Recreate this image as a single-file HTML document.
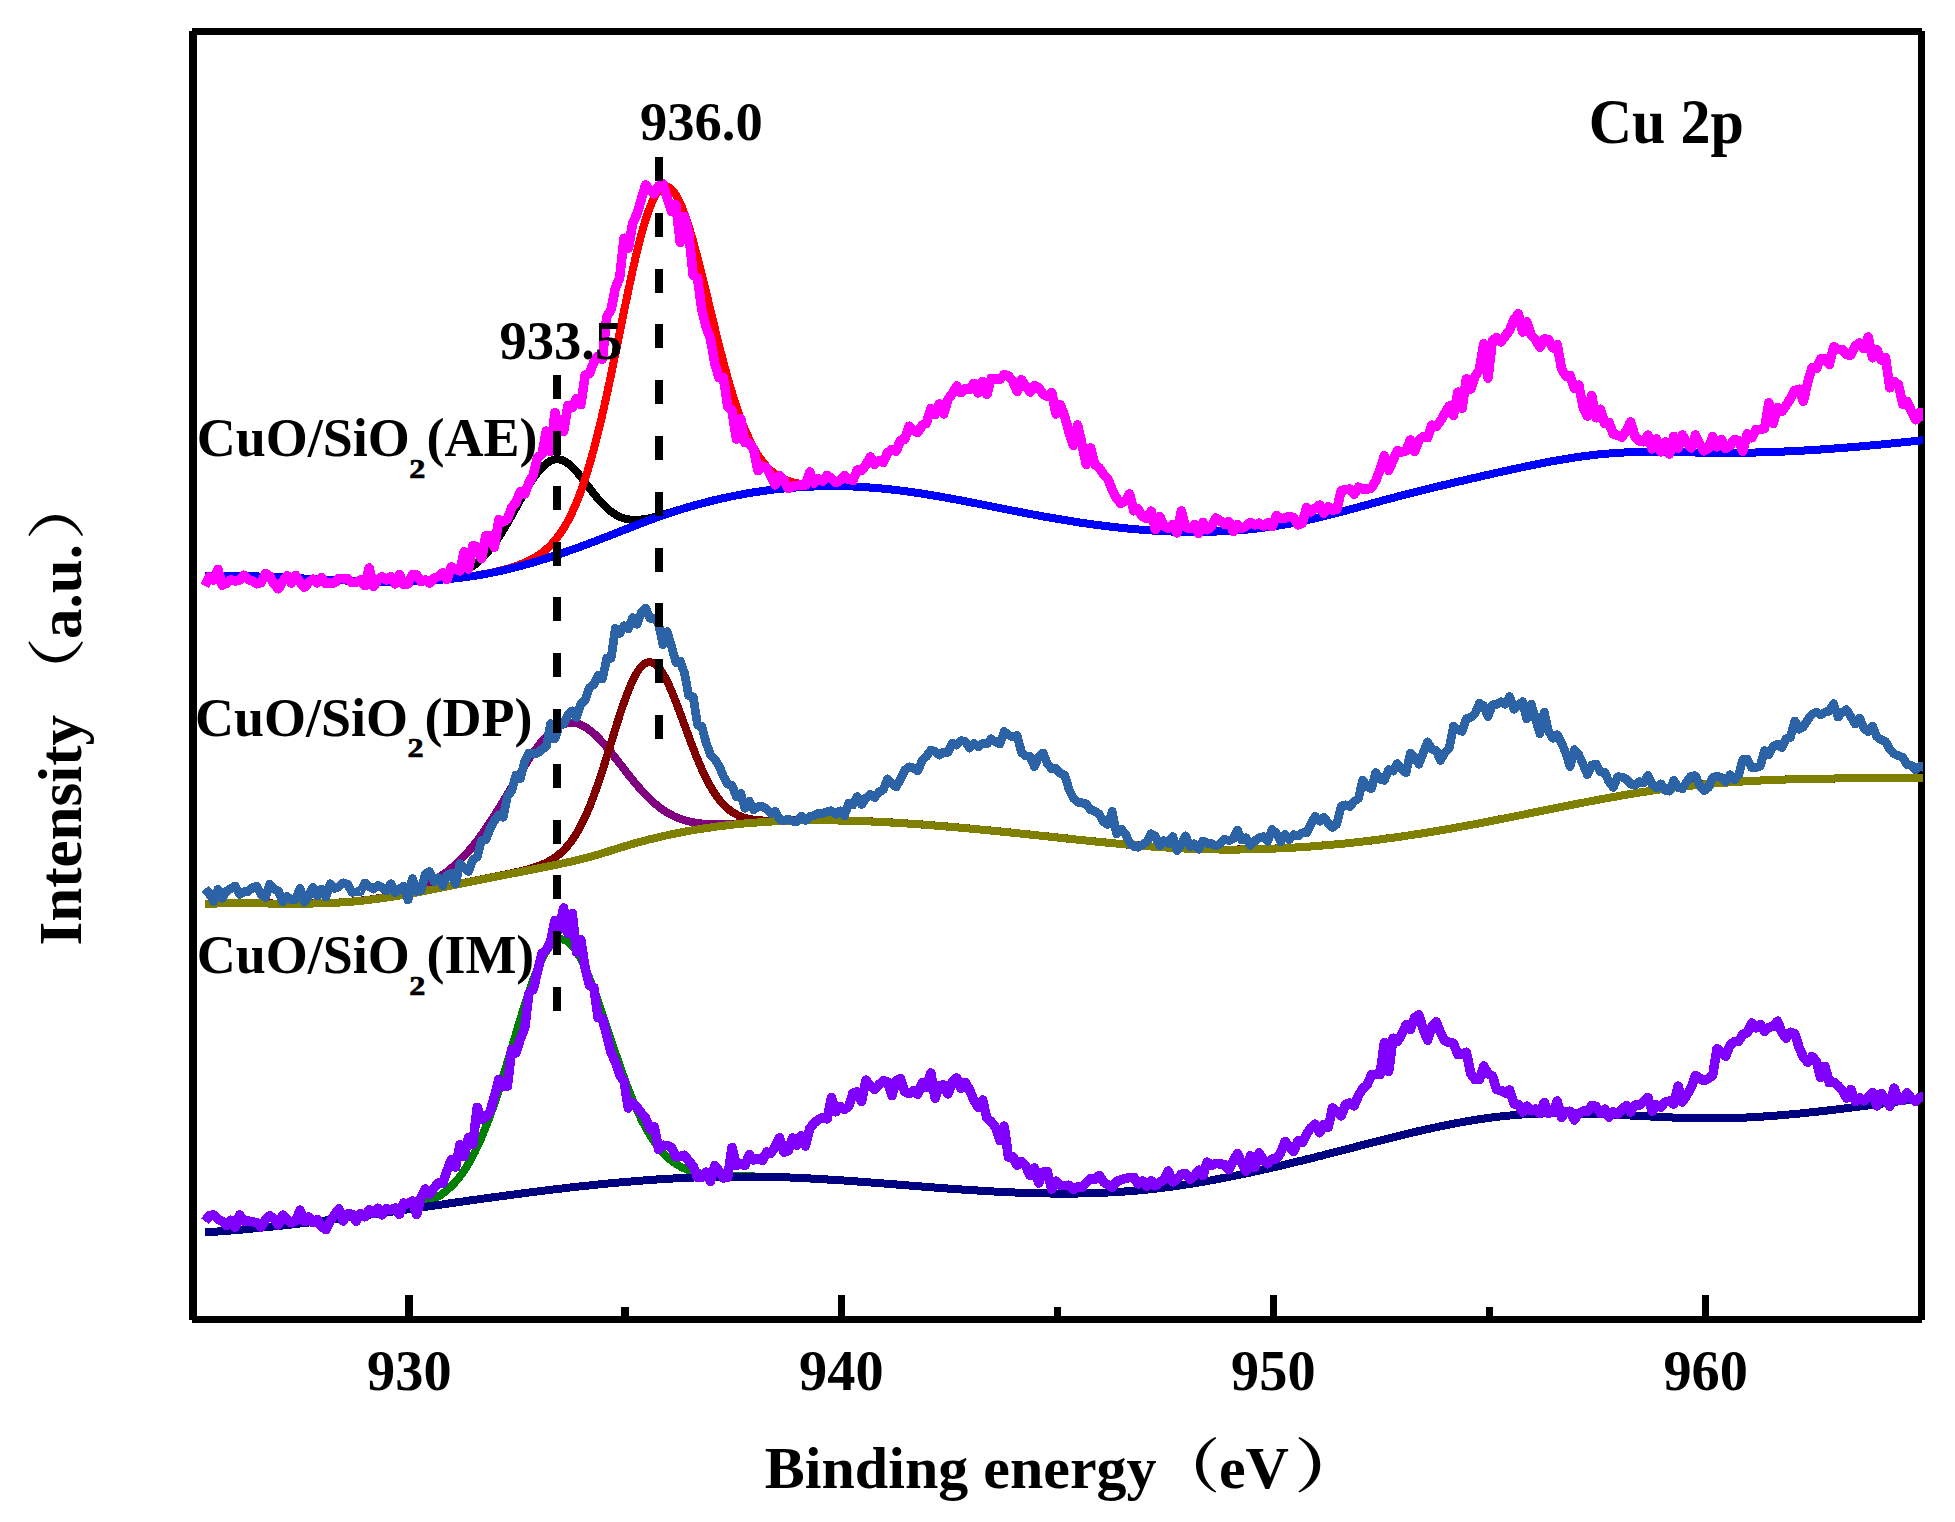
<!DOCTYPE html>
<html lang="en"><head><meta charset="utf-8"><title>Cu 2p XPS</title>
<style>
html,body{margin:0;padding:0;background:#fff}
body{width:1955px;height:1522px;overflow:hidden}
svg{display:block}
text{font-family:'Liberation Serif','Noto Serif CJK SC',serif;font-weight:700;fill:#000}
.c path{fill:none;stroke-linejoin:round;stroke-linecap:butt}
</style></head><body>
<svg width="1955" height="1522" viewBox="0 0 1955 1522">
<rect width="1955" height="1522" fill="#fff"/>
<g fill="#000" shape-rendering="crispEdges">
<rect x="189" y="31" width="8" height="1289"/>
<rect x="192" y="28" width="1730" height="7"/>
<rect x="1918" y="31" width="7" height="1289"/>
<rect x="192" y="1316" width="1730" height="7"/>
<rect x="405.2" y="1295" width="7.5" height="22"/>
<rect x="837.5" y="1295" width="7.5" height="22"/>
<rect x="1269.5" y="1295" width="7.5" height="22"/>
<rect x="1701.8" y="1295" width="7.5" height="22"/>
<rect x="621.2" y="1307" width="7.5" height="10"/>
<rect x="1053.5" y="1307" width="7.5" height="10"/>
<rect x="1485.7" y="1307" width="7.5" height="10"/>
</g>
<defs><clipPath id="cp"><rect x="190" y="30" width="1733" height="1290"/></clipPath></defs>
<g class="c" clip-path="url(#cp)" shape-rendering="crispEdges">
<path d="M205.0,576.1 L207.5,576.1 L210.0,576.0 L212.5,576.0 L215.0,576.0 L217.5,575.9 L220.0,575.9 L222.5,575.9 L225.0,575.9 L227.5,575.9 L230.0,575.9 L232.5,575.9 L235.0,576.0 L237.5,576.0 L240.0,576.0 L242.5,576.1 L245.0,576.1 L247.5,576.2 L250.0,576.3 L252.5,576.3 L255.0,576.4 L257.5,576.5 L260.0,576.6 L262.5,576.7 L265.0,576.7 L267.5,576.8 L270.0,576.9 L272.5,577.0 L275.0,577.2 L277.5,577.3 L280.0,577.4 L282.5,577.5 L285.0,577.6 L287.5,577.7 L290.0,577.8 L292.5,578.0 L295.0,578.1 L297.5,578.2 L300.0,578.3 L302.5,578.5 L305.0,578.6 L307.5,578.7 L310.0,578.8 L312.5,579.0 L315.0,579.1 L317.5,579.2 L320.0,579.3 L322.5,579.5 L325.0,579.6 L327.5,579.7 L330.0,579.8 L332.5,580.0 L335.0,580.1 L337.5,580.2 L340.0,580.3 L342.5,580.4 L345.0,580.5 L347.5,580.6 L350.0,580.7 L352.5,580.8 L355.0,580.9 L357.5,581.0 L360.0,581.0 L362.5,581.1 L365.0,581.2 L367.5,581.2 L370.0,581.3 L372.5,581.3 L375.0,581.4 L377.5,581.4 L380.0,581.5 L382.5,581.5 L385.0,581.5 L387.5,581.5 L390.0,581.5 L392.5,581.5 L395.0,581.5 L397.5,581.5 L400.0,581.5 L402.5,581.4 L405.0,581.4 L407.5,581.3 L410.0,581.2 L412.5,581.1 L415.0,581.0 L417.5,580.9 L420.0,580.8 L422.5,580.6 L425.0,580.4 L427.5,580.2 L430.0,580.0 L432.5,579.7 L435.0,579.4 L437.5,579.0 L440.0,578.7 L442.5,578.2 L445.0,577.7 L447.5,577.2 L450.0,576.5 L452.5,575.8 L455.0,575.0 L457.5,574.2 L460.0,573.2 L462.5,572.0 L465.0,570.8 L467.5,569.4 L470.0,567.9 L472.5,566.2 L475.0,564.4 L477.5,562.3 L480.0,560.1 L482.5,557.7 L485.0,555.1 L487.5,552.3 L490.0,549.2 L492.5,546.0 L495.0,542.6 L497.5,539.0 L500.0,535.2 L502.5,531.2 L505.0,527.1 L507.5,522.8 L510.0,518.5 L512.5,514.0 L515.0,509.5 L517.5,505.0 L520.0,500.5 L522.5,496.1 L525.0,491.8 L527.5,487.5 L530.0,483.5 L532.5,479.6 L535.0,476.0 L537.5,472.7 L540.0,469.7 L542.5,467.0 L545.0,464.7 L547.5,462.8 L550.0,461.2 L552.5,460.1 L555.0,459.4 L557.5,459.2 L560.0,459.5 L562.5,460.2 L565.0,461.4 L567.5,463.0 L570.0,465.0 L572.5,467.3 L575.0,469.9 L577.5,472.7 L580.0,475.8 L582.5,478.9 L585.0,482.2 L587.5,485.5 L590.0,488.8 L592.5,492.0 L595.0,495.2 L597.5,498.2 L600.0,501.1 L602.5,503.8 L605.0,506.3 L607.5,508.7 L610.0,510.8 L612.5,512.6 L615.0,514.3 L617.5,515.7 L620.0,516.9 L622.5,517.9 L625.0,518.6 L627.5,519.2 L630.0,519.6 L632.5,519.9 L635.0,519.9 L637.5,519.9 L640.0,519.7 L642.5,519.4 L645.0,519.1 L647.5,518.6 L650.0,518.1 L652.5,517.5 L655.0,516.9 L657.5,516.2 L660.0,515.5 L662.5,514.8 L665.0,514.1 L667.5,513.3 L670.0,512.6 L672.5,511.8 L675.0,511.1 L677.5,510.3 L680.0,509.6 L682.5,508.8 L685.0,508.1 L687.5,507.3 L690.0,506.6 L692.5,505.9 L695.0,505.2 L697.5,504.5 L700.0,503.8 L702.5,503.2 L705.0,502.5 L707.5,501.9 L710.0,501.3 L712.5,500.6 L715.0,500.0 L717.5,499.4 L720.0,498.9 L722.5,498.3 L725.0,497.8 L727.5,497.2 L730.0,496.7 L732.5,496.2 L735.0,495.7 L737.5,495.2 L740.0,494.7 L742.5,494.3 L745.0,493.8 L747.5,493.4 L750.0,493.0 L752.5,492.6 L755.0,492.2 L757.5,491.8 L760.0,491.4 L762.5,491.0 L765.0,490.7 L767.5,490.4 L770.0,490.0 L772.5,489.7 L775.0,489.4 L777.5,489.2 L780.0,488.9 L782.5,488.6 L785.0,488.4 L787.5,488.2 L790.0,487.9 L792.5,487.7 L795.0,487.5 L797.5,487.4 L800.0,487.2 L802.5,487.0 L805.0,486.9 L807.5,486.8 L810.0,486.6 L812.5,486.5 L815.0,486.4 L817.5,486.4 L820.0,486.3 L822.5,486.2 L825.0,486.2 L827.5,486.2 L830.0,486.1 L832.5,486.1 L835.0,486.1 L837.5,486.2 L840.0,486.2 L842.5,486.2 L845.0,486.3 L847.5,486.4 L850.0,486.4 L852.5,486.5 L855.0,486.6 L857.5,486.7 L860.0,486.9 L862.5,487.0 L865.0,487.2 L867.5,487.3 L870.0,487.5 L872.5,487.7 L875.0,487.9 L877.5,488.1 L880.0,488.3 L882.5,488.6 L885.0,488.8 L887.5,489.1 L890.0,489.3 L892.5,489.6 L895.0,489.9 L897.5,490.2 L900.0,490.5 L902.5,490.8 L905.0,491.2 L907.5,491.5 L910.0,491.8 L912.5,492.2 L915.0,492.6 L917.5,492.9 L920.0,493.3 L922.5,493.7 L925.0,494.1 L927.5,494.5 L930.0,494.9 L932.5,495.3 L935.0,495.7 L937.5,496.2 L940.0,496.6 L942.5,497.0 L945.0,497.5 L947.5,497.9 L950.0,498.4 L952.5,498.8 L955.0,499.3 L957.5,499.8 L960.0,500.2 L962.5,500.7 L965.0,501.2 L967.5,501.7 L970.0,502.2 L972.5,502.6 L975.0,503.1 L977.5,503.6 L980.0,504.1 L982.5,504.6 L985.0,505.1 L987.5,505.6 L990.0,506.1 L992.5,506.6 L995.0,507.1 L997.5,507.6 L1000.0,508.1 L1002.5,508.6 L1005.0,509.1 L1007.5,509.6 L1010.0,510.1 L1012.5,510.6 L1015.0,511.0 L1017.5,511.5 L1020.0,512.0 L1022.5,512.5 L1025.0,513.0 L1027.5,513.5 L1030.0,513.9 L1032.5,514.4 L1035.0,514.9 L1037.5,515.4 L1040.0,515.8 L1042.5,516.3 L1045.0,516.7 L1047.5,517.2 L1050.0,517.6 L1052.5,518.0 L1055.0,518.5 L1057.5,518.9 L1060.0,519.3 L1062.5,519.7 L1065.0,520.2 L1067.5,520.6 L1070.0,521.0 L1072.5,521.4 L1075.0,521.8 L1077.5,522.1 L1080.0,522.5 L1082.5,522.9 L1085.0,523.3 L1087.5,523.6 L1090.0,524.0 L1092.5,524.3 L1095.0,524.7 L1097.5,525.0 L1100.0,525.3 L1102.5,525.6 L1105.0,525.9 L1107.5,526.3 L1110.0,526.6 L1112.5,526.9 L1115.0,527.1 L1117.5,527.4 L1120.0,527.7 L1122.5,528.0 L1125.0,528.2 L1127.5,528.5 L1130.0,528.7 L1132.5,528.9 L1135.0,529.2 L1137.5,529.4 L1140.0,529.6 L1142.5,529.8 L1145.0,530.0 L1147.5,530.2 L1150.0,530.3 L1152.5,530.5 L1155.0,530.7 L1157.5,530.8 L1160.0,530.9 L1162.5,531.1 L1165.0,531.2 L1167.5,531.3 L1170.0,531.4 L1172.5,531.5 L1175.0,531.6 L1177.5,531.7 L1180.0,531.7 L1182.5,531.8 L1185.0,531.8 L1187.5,531.9 L1190.0,531.9 L1192.5,531.9 L1195.0,531.9 L1197.5,531.9 L1200.0,531.9 L1202.5,531.9 L1205.0,531.8 L1207.5,531.8 L1210.0,531.7 L1212.5,531.7 L1215.0,531.6 L1217.5,531.5 L1220.0,531.4 L1222.5,531.3 L1225.0,531.1 L1227.5,531.0 L1230.0,530.9 L1232.5,530.7 L1235.0,530.5 L1237.5,530.3 L1240.0,530.1 L1242.5,529.9 L1245.0,529.7 L1247.5,529.5 L1250.0,529.2 L1252.5,529.0 L1255.0,528.7 L1257.5,528.4 L1260.0,528.1 L1262.5,527.8 L1265.0,527.5 L1267.5,527.2 L1270.0,526.8 L1272.5,526.5 L1275.0,526.1 L1277.5,525.7 L1280.0,525.3 L1282.5,524.9 L1285.0,524.5 L1287.5,524.0 L1290.0,523.6 L1292.5,523.1 L1295.0,522.6 L1297.5,522.1 L1300.0,521.6 L1302.5,521.1 L1305.0,520.5 L1307.5,520.0 L1310.0,519.4 L1312.5,518.9 L1315.0,518.3 L1317.5,517.7 L1320.0,517.1 L1322.5,516.5 L1325.0,515.9 L1327.5,515.3 L1330.0,514.7 L1332.5,514.0 L1335.0,513.4 L1337.5,512.7 L1340.0,512.1 L1342.5,511.4 L1345.0,510.8 L1347.5,510.1 L1350.0,509.4 L1352.5,508.8 L1355.0,508.1 L1357.5,507.4 L1360.0,506.7 L1362.5,506.1 L1365.0,505.4 L1367.5,504.7 L1370.0,504.0 L1372.5,503.3 L1375.0,502.7 L1377.5,502.0 L1380.0,501.3 L1382.5,500.6 L1385.0,499.9 L1387.5,499.3 L1390.0,498.6 L1392.5,497.9 L1395.0,497.3 L1397.5,496.6 L1400.0,496.0 L1402.5,495.3 L1405.0,494.7 L1407.5,494.0 L1410.0,493.4 L1412.5,492.8 L1415.0,492.1 L1417.5,491.5 L1420.0,490.9 L1422.5,490.3 L1425.0,489.6 L1427.5,489.0 L1430.0,488.4 L1432.5,487.8 L1435.0,487.2 L1437.5,486.6 L1440.0,486.0 L1442.5,485.4 L1445.0,484.8 L1447.5,484.2 L1450.0,483.6 L1452.5,483.0 L1455.0,482.4 L1457.5,481.8 L1460.0,481.2 L1462.5,480.7 L1465.0,480.1 L1467.5,479.5 L1470.0,478.9 L1472.5,478.3 L1475.0,477.8 L1477.5,477.2 L1480.0,476.6 L1482.5,476.0 L1485.0,475.5 L1487.5,474.9 L1490.0,474.3 L1492.5,473.8 L1495.0,473.2 L1497.5,472.6 L1500.0,472.1 L1502.5,471.5 L1505.0,471.0 L1507.5,470.4 L1510.0,469.9 L1512.5,469.3 L1515.0,468.8 L1517.5,468.2 L1520.0,467.7 L1522.5,467.2 L1525.0,466.6 L1527.5,466.1 L1530.0,465.6 L1532.5,465.1 L1535.0,464.6 L1537.5,464.1 L1540.0,463.6 L1542.5,463.1 L1545.0,462.6 L1547.5,462.1 L1550.0,461.7 L1552.5,461.2 L1555.0,460.7 L1557.5,460.3 L1560.0,459.9 L1562.5,459.4 L1565.0,459.0 L1567.5,458.6 L1570.0,458.2 L1572.5,457.8 L1575.0,457.5 L1577.5,457.1 L1580.0,456.7 L1582.5,456.4 L1585.0,456.0 L1587.5,455.7 L1590.0,455.4 L1592.5,455.1 L1595.0,454.8 L1597.5,454.5 L1600.0,454.3 L1602.5,454.0 L1605.0,453.8 L1607.5,453.6 L1610.0,453.4 L1612.5,453.2 L1615.0,453.0 L1617.5,452.8 L1620.0,452.7 L1622.5,452.6 L1625.0,452.4 L1627.5,452.3 L1630.0,452.2 L1632.5,452.1 L1635.0,452.1 L1637.5,452.0 L1640.0,452.0 L1642.5,451.9 L1645.0,451.9 L1647.5,451.9 L1650.0,451.8 L1652.5,451.8 L1655.0,451.8 L1657.5,451.8 L1660.0,451.9 L1662.5,451.9 L1665.0,451.9 L1667.5,451.9 L1670.0,452.0 L1672.5,452.0 L1675.0,452.1 L1677.5,452.1 L1680.0,452.2 L1682.5,452.2 L1685.0,452.3 L1687.5,452.3 L1690.0,452.4 L1692.5,452.4 L1695.0,452.5 L1697.5,452.5 L1700.0,452.6 L1702.5,452.6 L1705.0,452.7 L1707.5,452.7 L1710.0,452.7 L1712.5,452.8 L1715.0,452.8 L1717.5,452.8 L1720.0,452.8 L1722.5,452.8 L1725.0,452.8 L1727.5,452.8 L1730.0,452.8 L1732.5,452.8 L1735.0,452.8 L1737.5,452.8 L1740.0,452.8 L1742.5,452.7 L1745.0,452.7 L1747.5,452.7 L1750.0,452.6 L1752.5,452.6 L1755.0,452.5 L1757.5,452.4 L1760.0,452.4 L1762.5,452.3 L1765.0,452.2 L1767.5,452.2 L1770.0,452.1 L1772.5,452.0 L1775.0,451.9 L1777.5,451.8 L1780.0,451.7 L1782.5,451.6 L1785.0,451.5 L1787.5,451.4 L1790.0,451.3 L1792.5,451.1 L1795.0,451.0 L1797.5,450.9 L1800.0,450.7 L1802.5,450.6 L1805.0,450.5 L1807.5,450.3 L1810.0,450.2 L1812.5,450.0 L1815.0,449.9 L1817.5,449.7 L1820.0,449.5 L1822.5,449.4 L1825.0,449.2 L1827.5,449.0 L1830.0,448.8 L1832.5,448.7 L1835.0,448.5 L1837.5,448.3 L1840.0,448.1 L1842.5,447.9 L1845.0,447.7 L1847.5,447.5 L1850.0,447.3 L1852.5,447.1 L1855.0,446.9 L1857.5,446.7 L1860.0,446.4 L1862.5,446.2 L1865.0,446.0 L1867.5,445.8 L1870.0,445.5 L1872.5,445.3 L1875.0,445.1 L1877.5,444.8 L1880.0,444.6 L1882.5,444.4 L1885.0,444.1 L1887.5,443.9 L1890.0,443.6 L1892.5,443.4 L1895.0,443.1 L1897.5,442.9 L1900.0,442.6 L1902.5,442.4 L1905.0,442.1 L1907.5,441.8 L1910.0,441.6 L1912.5,441.3 L1915.0,441.0 L1917.5,440.8 L1920.0,440.5 L1922.5,440.2 L1925.0,440.0" stroke="#000000" stroke-width="8"/>
<path d="M205.0,576.1 L207.5,576.1 L210.0,576.0 L212.5,576.0 L215.0,576.0 L217.5,575.9 L220.0,575.9 L222.5,575.9 L225.0,575.9 L227.5,575.9 L230.0,575.9 L232.5,575.9 L235.0,576.0 L237.5,576.0 L240.0,576.0 L242.5,576.1 L245.0,576.1 L247.5,576.2 L250.0,576.3 L252.5,576.3 L255.0,576.4 L257.5,576.5 L260.0,576.6 L262.5,576.7 L265.0,576.7 L267.5,576.8 L270.0,576.9 L272.5,577.0 L275.0,577.2 L277.5,577.3 L280.0,577.4 L282.5,577.5 L285.0,577.6 L287.5,577.7 L290.0,577.8 L292.5,578.0 L295.0,578.1 L297.5,578.2 L300.0,578.3 L302.5,578.5 L305.0,578.6 L307.5,578.7 L310.0,578.8 L312.5,579.0 L315.0,579.1 L317.5,579.2 L320.0,579.3 L322.5,579.5 L325.0,579.6 L327.5,579.7 L330.0,579.8 L332.5,580.0 L335.0,580.1 L337.5,580.2 L340.0,580.3 L342.5,580.4 L345.0,580.5 L347.5,580.6 L350.0,580.7 L352.5,580.8 L355.0,580.9 L357.5,581.0 L360.0,581.0 L362.5,581.1 L365.0,581.2 L367.5,581.2 L370.0,581.3 L372.5,581.3 L375.0,581.4 L377.5,581.4 L380.0,581.5 L382.5,581.5 L385.0,581.5 L387.5,581.5 L390.0,581.5 L392.5,581.5 L395.0,581.5 L397.5,581.5 L400.0,581.5 L402.5,581.4 L405.0,581.4 L407.5,581.3 L410.0,581.3 L412.5,581.2 L415.0,581.1 L417.5,581.0 L420.0,580.9 L422.5,580.8 L425.0,580.7 L427.5,580.6 L430.0,580.4 L432.5,580.3 L435.0,580.1 L437.5,579.9 L440.0,579.7 L442.5,579.5 L445.0,579.3 L447.5,579.1 L450.0,578.9 L452.5,578.6 L455.0,578.3 L457.5,578.1 L460.0,577.8 L462.5,577.5 L465.0,577.1 L467.5,576.8 L470.0,576.4 L472.5,576.1 L475.0,575.7 L477.5,575.3 L480.0,574.8 L482.5,574.4 L485.0,573.9 L487.5,573.5 L490.0,573.0 L492.5,572.4 L495.0,571.9 L497.5,571.3 L500.0,570.7 L502.5,570.1 L505.0,569.4 L507.5,568.7 L510.0,568.0 L512.5,567.2 L515.0,566.4 L517.5,565.5 L520.0,564.6 L522.5,563.6 L525.0,562.5 L527.5,561.4 L530.0,560.2 L532.5,558.9 L535.0,557.4 L537.5,555.9 L540.0,554.2 L542.5,552.4 L545.0,550.4 L547.5,548.2 L550.0,545.8 L552.5,543.1 L555.0,540.3 L557.5,537.2 L560.0,533.7 L562.5,530.0 L565.0,526.0 L567.5,521.6 L570.0,516.8 L572.5,511.6 L575.0,506.0 L577.5,499.9 L580.0,493.5 L582.5,486.5 L585.0,479.1 L587.5,471.2 L590.0,462.8 L592.5,453.9 L595.0,444.6 L597.5,434.8 L600.0,424.5 L602.5,413.9 L605.0,402.8 L607.5,391.5 L610.0,379.8 L612.5,367.8 L615.0,355.7 L617.5,343.4 L620.0,331.1 L622.5,318.8 L625.0,306.5 L627.5,294.5 L630.0,282.6 L632.5,271.1 L635.0,260.1 L637.5,249.5 L640.0,239.5 L642.5,230.2 L645.0,221.7 L647.5,213.9 L650.0,207.0 L652.5,201.1 L655.0,196.1 L657.5,192.1 L660.0,189.2 L662.5,187.4 L665.0,186.6 L667.5,186.9 L670.0,188.2 L672.5,190.4 L675.0,193.6 L677.5,197.8 L680.0,202.8 L682.5,208.6 L685.0,215.2 L687.5,222.6 L690.0,230.5 L692.5,239.0 L695.0,248.1 L697.5,257.5 L700.0,267.3 L702.5,277.3 L705.0,287.6 L707.5,297.9 L710.0,308.3 L712.5,318.7 L715.0,328.9 L717.5,339.1 L720.0,349.0 L722.5,358.7 L725.0,368.1 L727.5,377.2 L730.0,385.9 L732.5,394.2 L735.0,402.1 L737.5,409.6 L740.0,416.7 L742.5,423.3 L745.0,429.5 L747.5,435.3 L750.0,440.7 L752.5,445.6 L755.0,450.1 L757.5,454.3 L760.0,458.0 L762.5,461.4 L765.0,464.5 L767.5,467.3 L770.0,469.8 L772.5,472.0 L775.0,473.9 L777.5,475.6 L780.0,477.2 L782.5,478.5 L785.0,479.6 L787.5,480.6 L790.0,481.5 L792.5,482.2 L795.0,482.8 L797.5,483.4 L800.0,483.8 L802.5,484.2 L805.0,484.5 L807.5,484.7 L810.0,485.0 L812.5,485.1 L815.0,485.3 L817.5,485.4 L820.0,485.5 L822.5,485.6 L825.0,485.7 L827.5,485.7 L830.0,485.8 L832.5,485.8 L835.0,485.9 L837.5,486.0 L840.0,486.0 L842.5,486.1 L845.0,486.2 L847.5,486.3 L850.0,486.4 L852.5,486.5 L855.0,486.6 L857.5,486.7 L860.0,486.8 L862.5,487.0 L865.0,487.1 L867.5,487.3 L870.0,487.5 L872.5,487.7 L875.0,487.9 L877.5,488.1 L880.0,488.3 L882.5,488.6 L885.0,488.8 L887.5,489.1 L890.0,489.3 L892.5,489.6 L895.0,489.9 L897.5,490.2 L900.0,490.5 L902.5,490.8 L905.0,491.2 L907.5,491.5 L910.0,491.8 L912.5,492.2 L915.0,492.6 L917.5,492.9 L920.0,493.3 L922.5,493.7 L925.0,494.1 L927.5,494.5 L930.0,494.9 L932.5,495.3 L935.0,495.7 L937.5,496.2 L940.0,496.6 L942.5,497.0 L945.0,497.5 L947.5,497.9 L950.0,498.4 L952.5,498.8 L955.0,499.3 L957.5,499.8 L960.0,500.2 L962.5,500.7 L965.0,501.2 L967.5,501.7 L970.0,502.2 L972.5,502.6 L975.0,503.1 L977.5,503.6 L980.0,504.1 L982.5,504.6 L985.0,505.1 L987.5,505.6 L990.0,506.1 L992.5,506.6 L995.0,507.1 L997.5,507.6 L1000.0,508.1 L1002.5,508.6 L1005.0,509.1 L1007.5,509.6 L1010.0,510.1 L1012.5,510.6 L1015.0,511.0 L1017.5,511.5 L1020.0,512.0 L1022.5,512.5 L1025.0,513.0 L1027.5,513.5 L1030.0,513.9 L1032.5,514.4 L1035.0,514.9 L1037.5,515.4 L1040.0,515.8 L1042.5,516.3 L1045.0,516.7 L1047.5,517.2 L1050.0,517.6 L1052.5,518.0 L1055.0,518.5 L1057.5,518.9 L1060.0,519.3 L1062.5,519.7 L1065.0,520.2 L1067.5,520.6 L1070.0,521.0 L1072.5,521.4 L1075.0,521.8 L1077.5,522.1 L1080.0,522.5 L1082.5,522.9 L1085.0,523.3 L1087.5,523.6 L1090.0,524.0 L1092.5,524.3 L1095.0,524.7 L1097.5,525.0 L1100.0,525.3 L1102.5,525.6 L1105.0,525.9 L1107.5,526.3 L1110.0,526.6 L1112.5,526.9 L1115.0,527.1 L1117.5,527.4 L1120.0,527.7 L1122.5,528.0 L1125.0,528.2 L1127.5,528.5 L1130.0,528.7 L1132.5,528.9 L1135.0,529.2 L1137.5,529.4 L1140.0,529.6 L1142.5,529.8 L1145.0,530.0 L1147.5,530.2 L1150.0,530.3 L1152.5,530.5 L1155.0,530.7 L1157.5,530.8 L1160.0,530.9 L1162.5,531.1 L1165.0,531.2 L1167.5,531.3 L1170.0,531.4 L1172.5,531.5 L1175.0,531.6 L1177.5,531.7 L1180.0,531.7 L1182.5,531.8 L1185.0,531.8 L1187.5,531.9 L1190.0,531.9 L1192.5,531.9 L1195.0,531.9 L1197.5,531.9 L1200.0,531.9 L1202.5,531.9 L1205.0,531.8 L1207.5,531.8 L1210.0,531.7 L1212.5,531.7 L1215.0,531.6 L1217.5,531.5 L1220.0,531.4 L1222.5,531.3 L1225.0,531.1 L1227.5,531.0 L1230.0,530.9 L1232.5,530.7 L1235.0,530.5 L1237.5,530.3 L1240.0,530.1 L1242.5,529.9 L1245.0,529.7 L1247.5,529.5 L1250.0,529.2 L1252.5,529.0 L1255.0,528.7 L1257.5,528.4 L1260.0,528.1 L1262.5,527.8 L1265.0,527.5 L1267.5,527.2 L1270.0,526.8 L1272.5,526.5 L1275.0,526.1 L1277.5,525.7 L1280.0,525.3 L1282.5,524.9 L1285.0,524.5 L1287.5,524.0 L1290.0,523.6 L1292.5,523.1 L1295.0,522.6 L1297.5,522.1 L1300.0,521.6 L1302.5,521.1 L1305.0,520.5 L1307.5,520.0 L1310.0,519.4 L1312.5,518.9 L1315.0,518.3 L1317.5,517.7 L1320.0,517.1 L1322.5,516.5 L1325.0,515.9 L1327.5,515.3 L1330.0,514.7 L1332.5,514.0 L1335.0,513.4 L1337.5,512.7 L1340.0,512.1 L1342.5,511.4 L1345.0,510.8 L1347.5,510.1 L1350.0,509.4 L1352.5,508.8 L1355.0,508.1 L1357.5,507.4 L1360.0,506.7 L1362.5,506.1 L1365.0,505.4 L1367.5,504.7 L1370.0,504.0 L1372.5,503.3 L1375.0,502.7 L1377.5,502.0 L1380.0,501.3 L1382.5,500.6 L1385.0,499.9 L1387.5,499.3 L1390.0,498.6 L1392.5,497.9 L1395.0,497.3 L1397.5,496.6 L1400.0,496.0 L1402.5,495.3 L1405.0,494.7 L1407.5,494.0 L1410.0,493.4 L1412.5,492.8 L1415.0,492.1 L1417.5,491.5 L1420.0,490.9 L1422.5,490.3 L1425.0,489.6 L1427.5,489.0 L1430.0,488.4 L1432.5,487.8 L1435.0,487.2 L1437.5,486.6 L1440.0,486.0 L1442.5,485.4 L1445.0,484.8 L1447.5,484.2 L1450.0,483.6 L1452.5,483.0 L1455.0,482.4 L1457.5,481.8 L1460.0,481.2 L1462.5,480.7 L1465.0,480.1 L1467.5,479.5 L1470.0,478.9 L1472.5,478.3 L1475.0,477.8 L1477.5,477.2 L1480.0,476.6 L1482.5,476.0 L1485.0,475.5 L1487.5,474.9 L1490.0,474.3 L1492.5,473.8 L1495.0,473.2 L1497.5,472.6 L1500.0,472.1 L1502.5,471.5 L1505.0,471.0 L1507.5,470.4 L1510.0,469.9 L1512.5,469.3 L1515.0,468.8 L1517.5,468.2 L1520.0,467.7 L1522.5,467.2 L1525.0,466.6 L1527.5,466.1 L1530.0,465.6 L1532.5,465.1 L1535.0,464.6 L1537.5,464.1 L1540.0,463.6 L1542.5,463.1 L1545.0,462.6 L1547.5,462.1 L1550.0,461.7 L1552.5,461.2 L1555.0,460.7 L1557.5,460.3 L1560.0,459.9 L1562.5,459.4 L1565.0,459.0 L1567.5,458.6 L1570.0,458.2 L1572.5,457.8 L1575.0,457.5 L1577.5,457.1 L1580.0,456.7 L1582.5,456.4 L1585.0,456.0 L1587.5,455.7 L1590.0,455.4 L1592.5,455.1 L1595.0,454.8 L1597.5,454.5 L1600.0,454.3 L1602.5,454.0 L1605.0,453.8 L1607.5,453.6 L1610.0,453.4 L1612.5,453.2 L1615.0,453.0 L1617.5,452.8 L1620.0,452.7 L1622.5,452.6 L1625.0,452.4 L1627.5,452.3 L1630.0,452.2 L1632.5,452.1 L1635.0,452.1 L1637.5,452.0 L1640.0,452.0 L1642.5,451.9 L1645.0,451.9 L1647.5,451.9 L1650.0,451.8 L1652.5,451.8 L1655.0,451.8 L1657.5,451.8 L1660.0,451.9 L1662.5,451.9 L1665.0,451.9 L1667.5,451.9 L1670.0,452.0 L1672.5,452.0 L1675.0,452.1 L1677.5,452.1 L1680.0,452.2 L1682.5,452.2 L1685.0,452.3 L1687.5,452.3 L1690.0,452.4 L1692.5,452.4 L1695.0,452.5 L1697.5,452.5 L1700.0,452.6 L1702.5,452.6 L1705.0,452.7 L1707.5,452.7 L1710.0,452.7 L1712.5,452.8 L1715.0,452.8 L1717.5,452.8 L1720.0,452.8 L1722.5,452.8 L1725.0,452.8 L1727.5,452.8 L1730.0,452.8 L1732.5,452.8 L1735.0,452.8 L1737.5,452.8 L1740.0,452.8 L1742.5,452.7 L1745.0,452.7 L1747.5,452.7 L1750.0,452.6 L1752.5,452.6 L1755.0,452.5 L1757.5,452.4 L1760.0,452.4 L1762.5,452.3 L1765.0,452.2 L1767.5,452.2 L1770.0,452.1 L1772.5,452.0 L1775.0,451.9 L1777.5,451.8 L1780.0,451.7 L1782.5,451.6 L1785.0,451.5 L1787.5,451.4 L1790.0,451.3 L1792.5,451.1 L1795.0,451.0 L1797.5,450.9 L1800.0,450.7 L1802.5,450.6 L1805.0,450.5 L1807.5,450.3 L1810.0,450.2 L1812.5,450.0 L1815.0,449.9 L1817.5,449.7 L1820.0,449.5 L1822.5,449.4 L1825.0,449.2 L1827.5,449.0 L1830.0,448.8 L1832.5,448.7 L1835.0,448.5 L1837.5,448.3 L1840.0,448.1 L1842.5,447.9 L1845.0,447.7 L1847.5,447.5 L1850.0,447.3 L1852.5,447.1 L1855.0,446.9 L1857.5,446.7 L1860.0,446.4 L1862.5,446.2 L1865.0,446.0 L1867.5,445.8 L1870.0,445.5 L1872.5,445.3 L1875.0,445.1 L1877.5,444.8 L1880.0,444.6 L1882.5,444.4 L1885.0,444.1 L1887.5,443.9 L1890.0,443.6 L1892.5,443.4 L1895.0,443.1 L1897.5,442.9 L1900.0,442.6 L1902.5,442.4 L1905.0,442.1 L1907.5,441.8 L1910.0,441.6 L1912.5,441.3 L1915.0,441.0 L1917.5,440.8 L1920.0,440.5 L1922.5,440.2 L1925.0,440.0" stroke="#ff0000" stroke-width="8"/>
<path d="M205.0,576.1 L208.0,576.1 L211.0,576.0 L214.0,576.0 L217.0,575.9 L220.0,575.9 L223.0,575.9 L226.0,575.9 L229.0,575.9 L232.0,575.9 L235.0,576.0 L238.0,576.0 L241.0,576.1 L244.0,576.1 L247.0,576.2 L250.0,576.3 L253.0,576.3 L256.0,576.4 L259.0,576.5 L262.0,576.6 L265.0,576.7 L268.0,576.9 L271.0,577.0 L274.0,577.1 L277.0,577.2 L280.0,577.4 L283.0,577.5 L286.0,577.6 L289.0,577.8 L292.0,577.9 L295.0,578.1 L298.0,578.2 L301.0,578.4 L304.0,578.5 L307.0,578.7 L310.0,578.8 L313.0,579.0 L316.0,579.1 L319.0,579.3 L322.0,579.4 L325.0,579.6 L328.0,579.7 L331.0,579.9 L334.0,580.0 L337.0,580.2 L340.0,580.3 L343.0,580.4 L346.0,580.5 L349.0,580.7 L352.0,580.8 L355.0,580.9 L358.0,581.0 L361.0,581.1 L364.0,581.1 L367.0,581.2 L370.0,581.3 L373.0,581.4 L376.0,581.4 L379.0,581.5 L382.0,581.5 L385.0,581.5 L388.0,581.5 L391.0,581.5 L394.0,581.5 L397.0,581.5 L400.0,581.5 L403.0,581.4 L406.0,581.4 L409.0,581.3 L412.0,581.2 L415.0,581.1 L418.0,581.0 L421.0,580.9 L424.0,580.8 L427.0,580.6 L430.0,580.4 L433.0,580.2 L436.0,580.0 L439.0,579.8 L442.0,579.6 L445.0,579.3 L448.0,579.1 L451.0,578.8 L454.0,578.5 L457.0,578.1 L460.0,577.8 L463.0,577.4 L466.0,577.0 L469.0,576.6 L472.0,576.2 L475.0,575.7 L478.0,575.2 L481.0,574.7 L484.0,574.2 L487.0,573.7 L490.0,573.1 L493.0,572.5 L496.0,571.9 L499.0,571.2 L502.0,570.6 L505.0,569.9 L508.0,569.2 L511.0,568.4 L514.0,567.7 L517.0,566.9 L520.0,566.1 L523.0,565.3 L526.0,564.5 L529.0,563.6 L532.0,562.8 L535.0,561.9 L538.0,561.0 L541.0,560.1 L544.0,559.1 L547.0,558.2 L550.0,557.2 L553.0,556.2 L556.0,555.3 L559.0,554.2 L562.0,553.2 L565.0,552.2 L568.0,551.1 L571.0,550.1 L574.0,549.0 L577.0,547.9 L580.0,546.9 L583.0,545.8 L586.0,544.7 L589.0,543.5 L592.0,542.4 L595.0,541.3 L598.0,540.1 L601.0,539.0 L604.0,537.8 L607.0,536.7 L610.0,535.5 L613.0,534.3 L616.0,533.2 L619.0,532.0 L622.0,530.8 L625.0,529.6 L628.0,528.4 L631.0,527.3 L634.0,526.1 L637.0,524.9 L640.0,523.8 L643.0,522.6 L646.0,521.5 L649.0,520.3 L652.0,519.2 L655.0,518.1 L658.0,517.0 L661.0,516.0 L664.0,514.9 L667.0,513.9 L670.0,512.9 L673.0,511.9 L676.0,510.9 L679.0,510.0 L682.0,509.0 L685.0,508.1 L688.0,507.2 L691.0,506.4 L694.0,505.5 L697.0,504.7 L700.0,503.9 L703.0,503.1 L706.0,502.3 L709.0,501.5 L712.0,500.8 L715.0,500.0 L718.0,499.3 L721.0,498.6 L724.0,498.0 L727.0,497.3 L730.0,496.7 L733.0,496.1 L736.0,495.5 L739.0,494.9 L742.0,494.4 L745.0,493.8 L748.0,493.3 L751.0,492.8 L754.0,492.3 L757.0,491.9 L760.0,491.4 L763.0,491.0 L766.0,490.6 L769.0,490.2 L772.0,489.8 L775.0,489.4 L778.0,489.1 L781.0,488.8 L784.0,488.5 L787.0,488.2 L790.0,487.9 L793.0,487.7 L796.0,487.5 L799.0,487.3 L802.0,487.1 L805.0,486.9 L808.0,486.7 L811.0,486.6 L814.0,486.5 L817.0,486.4 L820.0,486.3 L823.0,486.2 L826.0,486.2 L829.0,486.2 L832.0,486.1 L835.0,486.1 L838.0,486.2 L841.0,486.2 L844.0,486.3 L847.0,486.3 L850.0,486.4 L853.0,486.5 L856.0,486.7 L859.0,486.8 L862.0,487.0 L865.0,487.2 L868.0,487.4 L871.0,487.6 L874.0,487.8 L877.0,488.1 L880.0,488.3 L883.0,488.6 L886.0,488.9 L889.0,489.2 L892.0,489.6 L895.0,489.9 L898.0,490.3 L901.0,490.6 L904.0,491.0 L907.0,491.4 L910.0,491.8 L913.0,492.3 L916.0,492.7 L919.0,493.2 L922.0,493.6 L925.0,494.1 L928.0,494.6 L931.0,495.1 L934.0,495.6 L937.0,496.1 L940.0,496.6 L943.0,497.1 L946.0,497.7 L949.0,498.2 L952.0,498.8 L955.0,499.3 L958.0,499.9 L961.0,500.4 L964.0,501.0 L967.0,501.6 L970.0,502.2 L973.0,502.7 L976.0,503.3 L979.0,503.9 L982.0,504.5 L985.0,505.1 L988.0,505.7 L991.0,506.3 L994.0,506.9 L997.0,507.5 L1000.0,508.1 L1003.0,508.7 L1006.0,509.3 L1009.0,509.9 L1012.0,510.5 L1015.0,511.0 L1018.0,511.6 L1021.0,512.2 L1024.0,512.8 L1027.0,513.4 L1030.0,513.9 L1033.0,514.5 L1036.0,515.1 L1039.0,515.6 L1042.0,516.2 L1045.0,516.7 L1048.0,517.3 L1051.0,517.8 L1054.0,518.3 L1057.0,518.8 L1060.0,519.3 L1063.0,519.8 L1066.0,520.3 L1069.0,520.8 L1072.0,521.3 L1075.0,521.8 L1078.0,522.2 L1081.0,522.7 L1084.0,523.1 L1087.0,523.5 L1090.0,524.0 L1093.0,524.4 L1096.0,524.8 L1099.0,525.2 L1102.0,525.6 L1105.0,525.9 L1108.0,526.3 L1111.0,526.7 L1114.0,527.0 L1117.0,527.4 L1120.0,527.7 L1123.0,528.0 L1126.0,528.3 L1129.0,528.6 L1132.0,528.9 L1135.0,529.2 L1138.0,529.4 L1141.0,529.7 L1144.0,529.9 L1147.0,530.1 L1150.0,530.3 L1153.0,530.5 L1156.0,530.7 L1159.0,530.9 L1162.0,531.0 L1165.0,531.2 L1168.0,531.3 L1171.0,531.5 L1174.0,531.6 L1177.0,531.7 L1180.0,531.7 L1183.0,531.8 L1186.0,531.8 L1189.0,531.9 L1192.0,531.9 L1195.0,531.9 L1198.0,531.9 L1201.0,531.9 L1204.0,531.8 L1207.0,531.8 L1210.0,531.7 L1213.0,531.6 L1216.0,531.5 L1219.0,531.4 L1222.0,531.3 L1225.0,531.1 L1228.0,531.0 L1231.0,530.8 L1234.0,530.6 L1237.0,530.4 L1240.0,530.1 L1243.0,529.9 L1246.0,529.6 L1249.0,529.3 L1252.0,529.0 L1255.0,528.7 L1258.0,528.4 L1261.0,528.0 L1264.0,527.6 L1267.0,527.2 L1270.0,526.8 L1273.0,526.4 L1276.0,525.9 L1279.0,525.5 L1282.0,525.0 L1285.0,524.5 L1288.0,523.9 L1291.0,523.4 L1294.0,522.8 L1297.0,522.2 L1300.0,521.6 L1303.0,521.0 L1306.0,520.3 L1309.0,519.7 L1312.0,519.0 L1315.0,518.3 L1318.0,517.6 L1321.0,516.9 L1324.0,516.2 L1327.0,515.4 L1330.0,514.7 L1333.0,513.9 L1336.0,513.1 L1339.0,512.4 L1342.0,511.6 L1345.0,510.8 L1348.0,510.0 L1351.0,509.2 L1354.0,508.4 L1357.0,507.6 L1360.0,506.7 L1363.0,505.9 L1366.0,505.1 L1369.0,504.3 L1372.0,503.5 L1375.0,502.7 L1378.0,501.8 L1381.0,501.0 L1384.0,500.2 L1387.0,499.4 L1390.0,498.6 L1393.0,497.8 L1396.0,497.0 L1399.0,496.2 L1402.0,495.5 L1405.0,494.7 L1408.0,493.9 L1411.0,493.2 L1414.0,492.4 L1417.0,491.6 L1420.0,490.9 L1423.0,490.1 L1426.0,489.4 L1429.0,488.7 L1432.0,487.9 L1435.0,487.2 L1438.0,486.5 L1441.0,485.7 L1444.0,485.0 L1447.0,484.3 L1450.0,483.6 L1453.0,482.9 L1456.0,482.2 L1459.0,481.5 L1462.0,480.8 L1465.0,480.1 L1468.0,479.4 L1471.0,478.7 L1474.0,478.0 L1477.0,477.3 L1480.0,476.6 L1483.0,475.9 L1486.0,475.2 L1489.0,474.6 L1492.0,473.9 L1495.0,473.2 L1498.0,472.5 L1501.0,471.9 L1504.0,471.2 L1507.0,470.5 L1510.0,469.9 L1513.0,469.2 L1516.0,468.5 L1519.0,467.9 L1522.0,467.3 L1525.0,466.6 L1528.0,466.0 L1531.0,465.4 L1534.0,464.8 L1537.0,464.2 L1540.0,463.6 L1543.0,463.0 L1546.0,462.4 L1549.0,461.8 L1552.0,461.3 L1555.0,460.7 L1558.0,460.2 L1561.0,459.7 L1564.0,459.2 L1567.0,458.7 L1570.0,458.2 L1573.0,457.8 L1576.0,457.3 L1579.0,456.9 L1582.0,456.4 L1585.0,456.0 L1588.0,455.7 L1591.0,455.3 L1594.0,454.9 L1597.0,454.6 L1600.0,454.3 L1603.0,454.0 L1606.0,453.7 L1609.0,453.5 L1612.0,453.2 L1615.0,453.0 L1618.0,452.8 L1621.0,452.6 L1624.0,452.5 L1627.0,452.3 L1630.0,452.2 L1633.0,452.1 L1636.0,452.0 L1639.0,452.0 L1642.0,451.9 L1645.0,451.9 L1648.0,451.9 L1651.0,451.8 L1654.0,451.8 L1657.0,451.8 L1660.0,451.9 L1663.0,451.9 L1666.0,451.9 L1669.0,452.0 L1672.0,452.0 L1675.0,452.1 L1678.0,452.1 L1681.0,452.2 L1684.0,452.2 L1687.0,452.3 L1690.0,452.4 L1693.0,452.4 L1696.0,452.5 L1699.0,452.5 L1702.0,452.6 L1705.0,452.7 L1708.0,452.7 L1711.0,452.7 L1714.0,452.8 L1717.0,452.8 L1720.0,452.8 L1723.0,452.8 L1726.0,452.8 L1729.0,452.8 L1732.0,452.8 L1735.0,452.8 L1738.0,452.8 L1741.0,452.8 L1744.0,452.7 L1747.0,452.7 L1750.0,452.6 L1753.0,452.6 L1756.0,452.5 L1759.0,452.4 L1762.0,452.3 L1765.0,452.2 L1768.0,452.1 L1771.0,452.0 L1774.0,451.9 L1777.0,451.8 L1780.0,451.7 L1783.0,451.6 L1786.0,451.4 L1789.0,451.3 L1792.0,451.2 L1795.0,451.0 L1798.0,450.8 L1801.0,450.7 L1804.0,450.5 L1807.0,450.3 L1810.0,450.2 L1813.0,450.0 L1816.0,449.8 L1819.0,449.6 L1822.0,449.4 L1825.0,449.2 L1828.0,449.0 L1831.0,448.8 L1834.0,448.5 L1837.0,448.3 L1840.0,448.1 L1843.0,447.9 L1846.0,447.6 L1849.0,447.4 L1852.0,447.1 L1855.0,446.9 L1858.0,446.6 L1861.0,446.4 L1864.0,446.1 L1867.0,445.8 L1870.0,445.5 L1873.0,445.3 L1876.0,445.0 L1879.0,444.7 L1882.0,444.4 L1885.0,444.1 L1888.0,443.8 L1891.0,443.5 L1894.0,443.2 L1897.0,442.9 L1900.0,442.6 L1903.0,442.3 L1906.0,442.0 L1909.0,441.7 L1912.0,441.4 L1915.0,441.0 L1918.0,440.7 L1921.0,440.4 L1924.0,440.1" stroke="#0000ff" stroke-width="8"/>
<path d="M205.0,585.9 L209.3,576.8 L213.6,580.0 L218.0,569.3 L222.3,585.2 L226.6,583.2 L230.9,579.7 L235.2,581.0 L239.6,579.9 L243.9,575.2 L248.2,579.4 L252.5,581.1 L256.8,583.8 L261.2,582.5 L265.5,573.6 L269.8,576.1 L274.1,584.1 L278.4,588.9 L282.8,581.2 L287.1,575.8 L291.4,583.0 L295.7,575.3 L300.0,582.2 L304.4,587.3 L308.7,582.4 L313.0,579.2 L317.3,582.9 L321.6,577.5 L326.0,583.7 L330.3,583.0 L334.6,582.8 L338.9,578.3 L343.2,578.8 L347.6,578.7 L351.9,582.5 L356.2,582.2 L360.5,579.9 L364.8,585.7 L369.2,568.0 L373.5,586.7 L377.8,580.0 L382.1,576.6 L386.4,580.0 L390.8,576.8 L395.1,583.9 L399.4,574.5 L403.7,584.4 L408.0,584.1 L412.4,574.6 L416.7,575.0 L421.0,581.5 L425.3,580.0 L429.6,582.9 L434.0,578.4 L438.3,576.7 L442.6,572.8 L446.9,579.5 L451.2,567.0 L455.6,569.4 L459.9,570.9 L464.2,551.6 L468.5,569.0 L472.8,545.8 L477.2,546.6 L481.5,558.8 L485.8,536.0 L490.1,535.6 L494.4,547.3 L498.8,519.6 L503.1,521.9 L507.4,519.1 L511.7,507.5 L516.0,502.3 L520.4,491.6 L524.7,493.9 L529.0,482.8 L533.3,474.7 L537.6,457.2 L542.0,454.3 L546.3,431.1 L550.6,451.4 L554.9,412.6 L559.2,429.5 L563.6,431.5 L567.9,405.4 L572.2,407.6 L576.5,398.7 L580.8,404.7 L585.2,375.1 L589.5,373.6 L593.8,362.1 L598.1,356.2 L602.4,359.2 L606.8,316.5 L611.1,309.7 L615.4,287.8 L619.7,277.7 L624.0,238.2 L628.4,248.2 L632.7,223.1 L637.0,214.0 L641.3,199.2 L645.6,184.9 L650.0,190.5 L654.3,193.9 L658.6,185.9 L662.9,183.6 L667.2,198.2 L671.6,211.6 L675.9,204.5 L680.2,242.4 L684.5,216.5 L688.8,233.8 L693.2,275.1 L697.5,277.9 L701.8,310.1 L706.1,327.3 L710.4,338.3 L714.8,363.6 L719.1,377.8 L723.4,377.4 L727.7,406.6 L732.0,410.4 L736.4,439.0 L740.7,418.4 L745.0,442.7 L749.3,442.9 L753.6,449.1 L758.0,470.7 L762.3,466.1 L766.6,467.8 L770.9,476.3 L775.2,484.9 L779.6,475.8 L783.9,479.9 L788.2,488.5 L792.5,486.2 L796.8,485.6 L801.2,484.8 L805.5,485.0 L809.8,472.0 L814.1,483.2 L818.4,478.8 L822.8,481.3 L827.1,475.4 L831.4,478.1 L835.7,482.6 L840.0,480.5 L844.4,475.6 L848.7,479.4 L853.0,480.4 L857.3,470.0 L861.6,470.5 L866.0,464.7 L870.3,456.9 L874.6,464.4 L878.9,460.7 L883.2,462.4 L887.6,452.8 L891.9,449.4 L896.2,451.1 L900.5,440.3 L904.8,439.2 L909.2,426.2 L913.5,430.7 L917.8,432.5 L922.1,425.3 L926.4,423.3 L930.8,408.6 L935.1,414.5 L939.4,403.9 L943.7,413.9 L948.0,399.4 L952.4,393.6 L956.7,386.1 L961.0,392.6 L965.3,388.3 L969.6,389.4 L974.0,383.3 L978.3,392.9 L982.6,381.5 L986.9,394.4 L991.2,378.4 L995.6,378.7 L999.9,379.6 L1004.2,374.4 L1008.5,376.0 L1012.8,381.1 L1017.2,391.6 L1021.5,379.8 L1025.8,386.2 L1030.1,392.1 L1034.4,385.6 L1038.8,387.5 L1043.1,394.2 L1047.4,396.4 L1051.7,392.5 L1056.0,414.0 L1060.4,404.8 L1064.7,416.5 L1069.0,432.2 L1073.3,445.5 L1077.6,425.0 L1082.0,444.4 L1086.3,464.6 L1090.6,447.9 L1094.9,464.5 L1099.2,467.9 L1103.6,474.4 L1107.9,479.0 L1112.2,490.0 L1116.5,498.0 L1120.8,503.4 L1125.2,501.4 L1129.5,494.0 L1133.8,510.8 L1138.1,508.8 L1142.4,516.6 L1146.8,518.6 L1151.1,511.1 L1155.4,529.7 L1159.7,516.3 L1164.0,526.3 L1168.4,528.2 L1172.7,524.4 L1177.0,532.9 L1181.3,511.0 L1185.6,527.3 L1190.0,528.6 L1194.3,524.6 L1198.6,533.7 L1202.9,522.4 L1207.2,529.8 L1211.6,526.7 L1215.9,518.0 L1220.2,520.7 L1224.5,524.5 L1228.8,521.5 L1233.2,531.6 L1237.5,524.4 L1241.8,528.5 L1246.1,526.1 L1250.4,522.4 L1254.8,524.9 L1259.1,523.2 L1263.4,525.9 L1267.7,522.9 L1272.0,526.6 L1276.4,515.6 L1280.7,518.4 L1285.0,518.1 L1289.3,516.3 L1293.6,517.8 L1298.0,524.8 L1302.3,523.1 L1306.6,507.7 L1310.9,511.8 L1315.2,508.4 L1319.6,505.1 L1323.9,513.4 L1328.2,506.8 L1332.5,510.0 L1336.8,509.4 L1341.2,490.6 L1345.5,489.7 L1349.8,489.1 L1354.1,494.4 L1358.4,487.2 L1362.8,489.2 L1367.1,489.0 L1371.4,487.9 L1375.7,480.9 L1380.0,469.6 L1384.4,455.8 L1388.7,470.4 L1393.0,460.7 L1397.3,450.6 L1401.6,452.1 L1406.0,450.9 L1410.3,439.9 L1414.6,451.5 L1418.9,440.0 L1423.2,436.7 L1427.6,437.6 L1431.9,425.2 L1436.2,426.5 L1440.5,420.9 L1444.8,413.5 L1449.2,405.9 L1453.5,415.5 L1457.8,392.1 L1462.1,408.3 L1466.4,378.9 L1470.8,389.0 L1475.1,376.1 L1479.4,370.1 L1483.7,343.7 L1488.0,378.1 L1492.4,340.5 L1496.7,337.6 L1501.0,342.0 L1505.3,336.0 L1509.6,330.1 L1514.0,319.7 L1518.3,313.8 L1522.6,331.9 L1526.9,321.7 L1531.2,335.5 L1535.6,339.7 L1539.9,347.1 L1544.2,339.0 L1548.5,339.5 L1552.8,347.9 L1557.2,344.5 L1561.5,368.7 L1565.8,376.1 L1570.1,375.5 L1574.4,388.3 L1578.8,385.1 L1583.1,407.3 L1587.4,416.2 L1591.7,395.5 L1596.0,417.8 L1600.4,409.2 L1604.7,423.7 L1609.0,422.6 L1613.3,434.1 L1617.6,435.4 L1622.0,437.2 L1626.3,430.7 L1630.6,421.9 L1634.9,436.4 L1639.2,440.8 L1643.6,441.8 L1647.9,435.0 L1652.2,448.9 L1656.5,439.0 L1660.8,451.9 L1665.2,442.0 L1669.5,454.1 L1673.8,436.3 L1678.1,448.3 L1682.4,435.0 L1686.8,442.3 L1691.1,448.1 L1695.4,435.1 L1699.7,443.9 L1704.0,451.0 L1708.4,448.3 L1712.7,436.5 L1717.0,446.8 L1721.3,439.4 L1725.6,448.6 L1730.0,445.8 L1734.3,439.4 L1738.6,440.7 L1742.9,451.4 L1747.2,433.9 L1751.6,437.9 L1755.9,429.5 L1760.2,429.7 L1764.5,428.5 L1768.8,402.8 L1773.2,423.6 L1777.5,407.5 L1781.8,411.6 L1786.1,405.2 L1790.4,398.7 L1794.8,390.5 L1799.1,389.3 L1803.4,401.2 L1807.7,382.3 L1812.0,367.9 L1816.4,368.4 L1820.7,358.8 L1825.0,358.8 L1829.3,364.5 L1833.6,346.8 L1838.0,349.1 L1842.3,349.7 L1846.6,354.7 L1850.9,355.0 L1855.2,346.1 L1859.6,342.9 L1863.9,348.7 L1868.2,337.0 L1872.5,357.8 L1876.8,349.5 L1881.2,359.9 L1885.5,357.7 L1889.8,387.8 L1894.1,381.5 L1898.4,384.6 L1902.8,404.2 L1907.1,401.5 L1911.4,411.2 L1915.7,419.8 L1920.0,412.3 L1924.4,419.4" stroke="#ff00ff" stroke-width="9.5"/>
<path d="M205.0,903.8 L207.5,903.7 L210.0,903.6 L212.5,903.6 L215.0,903.5 L217.5,903.4 L220.0,903.4 L222.5,903.4 L225.0,903.3 L227.5,903.3 L230.0,903.3 L232.5,903.3 L235.0,903.3 L237.5,903.2 L240.0,903.2 L242.5,903.3 L245.0,903.3 L247.5,903.3 L250.0,903.3 L252.5,903.3 L255.0,903.3 L257.5,903.4 L260.0,903.4 L262.5,903.4 L265.0,903.4 L267.5,903.4 L270.0,903.5 L272.5,903.5 L275.0,903.5 L277.5,903.5 L280.0,903.6 L282.5,903.6 L285.0,903.6 L287.5,903.6 L290.0,903.6 L292.5,903.6 L295.0,903.6 L297.5,903.6 L300.0,903.6 L302.5,903.6 L305.0,903.6 L307.5,903.6 L310.0,903.5 L312.5,903.5 L315.0,903.4 L317.5,903.4 L320.0,903.3 L322.5,903.2 L325.0,903.2 L327.5,903.1 L330.0,903.0 L332.5,902.9 L335.0,902.7 L337.5,902.6 L340.0,902.4 L342.5,902.3 L345.0,902.1 L347.5,901.9 L350.0,901.7 L352.5,901.5 L355.0,901.2 L357.5,901.0 L360.0,900.7 L362.5,900.4 L365.0,900.1 L367.5,899.8 L370.0,899.5 L372.5,899.1 L375.0,898.7 L377.5,898.3 L380.0,897.9 L382.5,897.4 L385.0,897.0 L387.5,896.5 L390.0,895.9 L392.5,895.4 L395.0,894.8 L397.5,894.2 L400.0,893.6 L402.5,892.9 L405.0,892.2 L407.5,891.4 L410.0,890.6 L412.5,889.8 L415.0,888.9 L417.5,888.0 L420.0,887.0 L422.5,885.9 L425.0,884.8 L427.5,883.6 L430.0,882.4 L432.5,881.0 L435.0,879.6 L437.5,878.1 L440.0,876.6 L442.5,874.9 L445.0,873.1 L447.5,871.3 L450.0,869.3 L452.5,867.2 L455.0,865.0 L457.5,862.8 L460.0,860.3 L462.5,857.8 L465.0,855.2 L467.5,852.4 L470.0,849.5 L472.5,846.5 L475.0,843.4 L477.5,840.2 L480.0,836.9 L482.5,833.4 L485.0,829.8 L487.5,826.2 L490.0,822.4 L492.5,818.6 L495.0,814.6 L497.5,810.6 L500.0,806.6 L502.5,802.4 L505.0,798.3 L507.5,794.1 L510.0,789.9 L512.5,785.7 L515.0,781.5 L517.5,777.3 L520.0,773.2 L522.5,769.1 L525.0,765.1 L527.5,761.3 L530.0,757.5 L532.5,753.8 L535.0,750.3 L537.5,746.9 L540.0,743.7 L542.5,740.7 L545.0,737.9 L547.5,735.3 L550.0,732.9 L552.5,730.8 L555.0,728.8 L557.5,727.2 L560.0,725.8 L562.5,724.6 L565.0,723.8 L567.5,723.1 L570.0,722.8 L572.5,722.8 L575.0,723.1 L577.5,723.6 L580.0,724.5 L582.5,725.6 L585.0,726.9 L587.5,728.5 L590.0,730.4 L592.5,732.4 L595.0,734.6 L597.5,737.1 L600.0,739.6 L602.5,742.3 L605.0,745.2 L607.5,748.1 L610.0,751.2 L612.5,754.3 L615.0,757.5 L617.5,760.7 L620.0,763.9 L622.5,767.1 L625.0,770.4 L627.5,773.6 L630.0,776.7 L632.5,779.8 L635.0,782.9 L637.5,785.8 L640.0,788.7 L642.5,791.5 L645.0,794.2 L647.5,796.7 L650.0,799.2 L652.5,801.5 L655.0,803.7 L657.5,805.7 L660.0,807.7 L662.5,809.5 L665.0,811.2 L667.5,812.7 L670.0,814.1 L672.5,815.5 L675.0,816.7 L677.5,817.7 L680.0,818.7 L682.5,819.6 L685.0,820.4 L687.5,821.1 L690.0,821.7 L692.5,822.2 L695.0,822.6 L697.5,823.0 L700.0,823.3 L702.5,823.6 L705.0,823.8 L707.5,823.9 L710.0,824.1 L712.5,824.1 L715.0,824.2 L717.5,824.2 L720.0,824.1 L722.5,824.1 L725.0,824.0 L727.5,823.9 L730.0,823.8 L732.5,823.7 L735.0,823.6 L737.5,823.4 L740.0,823.3 L742.5,823.1 L745.0,823.0 L747.5,822.8 L750.0,822.7 L752.5,822.5 L755.0,822.4 L757.5,822.2 L760.0,822.1 L762.5,821.9 L765.0,821.8 L767.5,821.7 L770.0,821.5 L772.5,821.4 L775.0,821.3 L777.5,821.2 L780.0,821.1 L782.5,821.0 L785.0,820.9 L787.5,820.8 L790.0,820.7 L792.5,820.7 L795.0,820.6 L797.5,820.5 L800.0,820.5 L802.5,820.4 L805.0,820.4 L807.5,820.4 L810.0,820.3 L812.5,820.3 L815.0,820.3 L817.5,820.3 L820.0,820.3 L822.5,820.3 L825.0,820.3 L827.5,820.3 L830.0,820.3 L832.5,820.4 L835.0,820.4 L837.5,820.4 L840.0,820.5 L842.5,820.5 L845.0,820.6 L847.5,820.7 L850.0,820.7 L852.5,820.8 L855.0,820.9 L857.5,821.0 L860.0,821.1 L862.5,821.1 L865.0,821.2 L867.5,821.3 L870.0,821.4 L872.5,821.6 L875.0,821.7 L877.5,821.8 L880.0,821.9 L882.5,822.0 L885.0,822.2 L887.5,822.3 L890.0,822.5 L892.5,822.6 L895.0,822.7 L897.5,822.9 L900.0,823.0 L902.5,823.2 L905.0,823.4 L907.5,823.5 L910.0,823.7 L912.5,823.9 L915.0,824.0 L917.5,824.2 L920.0,824.4 L922.5,824.6 L925.0,824.8 L927.5,825.0 L930.0,825.2 L932.5,825.3 L935.0,825.5 L937.5,825.7 L940.0,825.9 L942.5,826.2 L945.0,826.4 L947.5,826.6 L950.0,826.8 L952.5,827.0 L955.0,827.2 L957.5,827.4 L960.0,827.7 L962.5,827.9 L965.0,828.1 L967.5,828.3 L970.0,828.6 L972.5,828.8 L975.0,829.0 L977.5,829.3 L980.0,829.5 L982.5,829.7 L985.0,830.0 L987.5,830.2 L990.0,830.5 L992.5,830.7 L995.0,831.0 L997.5,831.2 L1000.0,831.5 L1002.5,831.7 L1005.0,832.0 L1007.5,832.2 L1010.0,832.5 L1012.5,832.7 L1015.0,833.0 L1017.5,833.3 L1020.0,833.5 L1022.5,833.8 L1025.0,834.0 L1027.5,834.3 L1030.0,834.6 L1032.5,834.8 L1035.0,835.1 L1037.5,835.4 L1040.0,835.6 L1042.5,835.9 L1045.0,836.2 L1047.5,836.4 L1050.0,836.7 L1052.5,837.0 L1055.0,837.2 L1057.5,837.5 L1060.0,837.8 L1062.5,838.0 L1065.0,838.3 L1067.5,838.6 L1070.0,838.8 L1072.5,839.1 L1075.0,839.4 L1077.5,839.6 L1080.0,839.9 L1082.5,840.2 L1085.0,840.4 L1087.5,840.7 L1090.0,841.0 L1092.5,841.2 L1095.0,841.5 L1097.5,841.7 L1100.0,842.0 L1102.5,842.2 L1105.0,842.5 L1107.5,842.7 L1110.0,843.0 L1112.5,843.2 L1115.0,843.4 L1117.5,843.7 L1120.0,843.9 L1122.5,844.1 L1125.0,844.4 L1127.5,844.6 L1130.0,844.8 L1132.5,845.0 L1135.0,845.2 L1137.5,845.4 L1140.0,845.6 L1142.5,845.8 L1145.0,846.0 L1147.5,846.2 L1150.0,846.4 L1152.5,846.6 L1155.0,846.8 L1157.5,847.0 L1160.0,847.1 L1162.5,847.3 L1165.0,847.4 L1167.5,847.6 L1170.0,847.8 L1172.5,847.9 L1175.0,848.0 L1177.5,848.2 L1180.0,848.3 L1182.5,848.4 L1185.0,848.5 L1187.5,848.6 L1190.0,848.7 L1192.5,848.8 L1195.0,848.9 L1197.5,849.0 L1200.0,849.1 L1202.5,849.1 L1205.0,849.2 L1207.5,849.3 L1210.0,849.3 L1212.5,849.4 L1215.0,849.4 L1217.5,849.4 L1220.0,849.5 L1222.5,849.5 L1225.0,849.5 L1227.5,849.5 L1230.0,849.5 L1232.5,849.5 L1235.0,849.5 L1237.5,849.5 L1240.0,849.5 L1242.5,849.4 L1245.0,849.4 L1247.5,849.4 L1250.0,849.3 L1252.5,849.3 L1255.0,849.2 L1257.5,849.1 L1260.0,849.1 L1262.5,849.0 L1265.0,848.9 L1267.5,848.8 L1270.0,848.7 L1272.5,848.6 L1275.0,848.5 L1277.5,848.4 L1280.0,848.3 L1282.5,848.2 L1285.0,848.1 L1287.5,847.9 L1290.0,847.8 L1292.5,847.7 L1295.0,847.5 L1297.5,847.4 L1300.0,847.2 L1302.5,847.0 L1305.0,846.9 L1307.5,846.7 L1310.0,846.5 L1312.5,846.3 L1315.0,846.1 L1317.5,846.0 L1320.0,845.8 L1322.5,845.5 L1325.0,845.3 L1327.5,845.1 L1330.0,844.9 L1332.5,844.7 L1335.0,844.4 L1337.5,844.2 L1340.0,844.0 L1342.5,843.7 L1345.0,843.5 L1347.5,843.2 L1350.0,842.9 L1352.5,842.7 L1355.0,842.4 L1357.5,842.1 L1360.0,841.9 L1362.5,841.6 L1365.0,841.3 L1367.5,841.0 L1370.0,840.7 L1372.5,840.4 L1375.0,840.1 L1377.5,839.8 L1380.0,839.4 L1382.5,839.1 L1385.0,838.8 L1387.5,838.4 L1390.0,838.1 L1392.5,837.8 L1395.0,837.4 L1397.5,837.1 L1400.0,836.7 L1402.5,836.4 L1405.0,836.0 L1407.5,835.6 L1410.0,835.2 L1412.5,834.9 L1415.0,834.5 L1417.5,834.1 L1420.0,833.7 L1422.5,833.3 L1425.0,832.9 L1427.5,832.5 L1430.0,832.1 L1432.5,831.7 L1435.0,831.3 L1437.5,830.9 L1440.0,830.4 L1442.5,830.0 L1445.0,829.6 L1447.5,829.1 L1450.0,828.7 L1452.5,828.3 L1455.0,827.8 L1457.5,827.4 L1460.0,826.9 L1462.5,826.4 L1465.0,826.0 L1467.5,825.5 L1470.0,825.0 L1472.5,824.6 L1475.0,824.1 L1477.5,823.6 L1480.0,823.2 L1482.5,822.7 L1485.0,822.2 L1487.5,821.7 L1490.0,821.2 L1492.5,820.7 L1495.0,820.2 L1497.5,819.8 L1500.0,819.3 L1502.5,818.8 L1505.0,818.3 L1507.5,817.8 L1510.0,817.3 L1512.5,816.8 L1515.0,816.3 L1517.5,815.8 L1520.0,815.3 L1522.5,814.8 L1525.0,814.3 L1527.5,813.8 L1530.0,813.2 L1532.5,812.7 L1535.0,812.2 L1537.5,811.7 L1540.0,811.2 L1542.5,810.7 L1545.0,810.2 L1547.5,809.7 L1550.0,809.2 L1552.5,808.7 L1555.0,808.2 L1557.5,807.7 L1560.0,807.2 L1562.5,806.7 L1565.0,806.2 L1567.5,805.7 L1570.0,805.2 L1572.5,804.7 L1575.0,804.2 L1577.5,803.7 L1580.0,803.2 L1582.5,802.8 L1585.0,802.3 L1587.5,801.8 L1590.0,801.3 L1592.5,800.8 L1595.0,800.4 L1597.5,799.9 L1600.0,799.4 L1602.5,799.0 L1605.0,798.5 L1607.5,798.0 L1610.0,797.6 L1612.5,797.1 L1615.0,796.7 L1617.5,796.2 L1620.0,795.8 L1622.5,795.4 L1625.0,794.9 L1627.5,794.5 L1630.0,794.1 L1632.5,793.7 L1635.0,793.3 L1637.5,792.9 L1640.0,792.5 L1642.5,792.1 L1645.0,791.7 L1647.5,791.3 L1650.0,790.9 L1652.5,790.6 L1655.0,790.2 L1657.5,789.8 L1660.0,789.5 L1662.5,789.1 L1665.0,788.8 L1667.5,788.5 L1670.0,788.2 L1672.5,787.8 L1675.0,787.5 L1677.5,787.2 L1680.0,786.9 L1682.5,786.6 L1685.0,786.4 L1687.5,786.1 L1690.0,785.8 L1692.5,785.5 L1695.0,785.3 L1697.5,785.0 L1700.0,784.8 L1702.5,784.5 L1705.0,784.3 L1707.5,784.1 L1710.0,783.9 L1712.5,783.6 L1715.0,783.4 L1717.5,783.2 L1720.0,783.0 L1722.5,782.8 L1725.0,782.6 L1727.5,782.5 L1730.0,782.3 L1732.5,782.1 L1735.0,781.9 L1737.5,781.8 L1740.0,781.6 L1742.5,781.5 L1745.0,781.3 L1747.5,781.2 L1750.0,781.0 L1752.5,780.9 L1755.0,780.8 L1757.5,780.6 L1760.0,780.5 L1762.5,780.4 L1765.0,780.3 L1767.5,780.2 L1770.0,780.1 L1772.5,780.0 L1775.0,779.9 L1777.5,779.8 L1780.0,779.7 L1782.5,779.6 L1785.0,779.5 L1787.5,779.4 L1790.0,779.3 L1792.5,779.3 L1795.0,779.2 L1797.5,779.1 L1800.0,779.1 L1802.5,779.0 L1805.0,779.0 L1807.5,778.9 L1810.0,778.8 L1812.5,778.8 L1815.0,778.8 L1817.5,778.7 L1820.0,778.7 L1822.5,778.6 L1825.0,778.6 L1827.5,778.6 L1830.0,778.5 L1832.5,778.5 L1835.0,778.5 L1837.5,778.4 L1840.0,778.4 L1842.5,778.4 L1845.0,778.4 L1847.5,778.4 L1850.0,778.3 L1852.5,778.3 L1855.0,778.3 L1857.5,778.3 L1860.0,778.3 L1862.5,778.3 L1865.0,778.3 L1867.5,778.3 L1870.0,778.3 L1872.5,778.3 L1875.0,778.2 L1877.5,778.2 L1880.0,778.2 L1882.5,778.2 L1885.0,778.2 L1887.5,778.2 L1890.0,778.2 L1892.5,778.2 L1895.0,778.2 L1897.5,778.2 L1900.0,778.2 L1902.5,778.2 L1905.0,778.2 L1907.5,778.2 L1910.0,778.2 L1912.5,778.2 L1915.0,778.2 L1917.5,778.2 L1920.0,778.2 L1922.5,778.2 L1925.0,778.2" stroke="#800080" stroke-width="8"/>
<path d="M205.0,903.8 L207.5,903.7 L210.0,903.6 L212.5,903.5 L215.0,903.5 L217.5,903.4 L220.0,903.4 L222.5,903.3 L225.0,903.3 L227.5,903.3 L230.0,903.2 L232.5,903.2 L235.0,903.2 L237.5,903.2 L240.0,903.2 L242.5,903.2 L245.0,903.2 L247.5,903.2 L250.0,903.3 L252.5,903.3 L255.0,903.3 L257.5,903.3 L260.0,903.3 L262.5,903.4 L265.0,903.4 L267.5,903.4 L270.0,903.4 L272.5,903.5 L275.0,903.5 L277.5,903.5 L280.0,903.5 L282.5,903.5 L285.0,903.6 L287.5,903.6 L290.0,903.6 L292.5,903.6 L295.0,903.6 L297.5,903.6 L300.0,903.6 L302.5,903.6 L305.0,903.5 L307.5,903.5 L310.0,903.5 L312.5,903.4 L315.0,903.4 L317.5,903.3 L320.0,903.3 L322.5,903.2 L325.0,903.1 L327.5,903.0 L330.0,902.9 L332.5,902.8 L335.0,902.7 L337.5,902.6 L340.0,902.4 L342.5,902.3 L345.0,902.1 L347.5,901.9 L350.0,901.7 L352.5,901.5 L355.0,901.3 L357.5,901.1 L360.0,900.8 L362.5,900.6 L365.0,900.3 L367.5,900.0 L370.0,899.7 L372.5,899.4 L375.0,899.1 L377.5,898.8 L380.0,898.4 L382.5,898.1 L385.0,897.7 L387.5,897.3 L390.0,896.9 L392.5,896.5 L395.0,896.1 L397.5,895.7 L400.0,895.3 L402.5,894.9 L405.0,894.5 L407.5,894.0 L410.0,893.6 L412.5,893.1 L415.0,892.6 L417.5,892.2 L420.0,891.7 L422.5,891.2 L425.0,890.8 L427.5,890.3 L430.0,889.8 L432.5,889.3 L435.0,888.8 L437.5,888.3 L440.0,887.8 L442.5,887.3 L445.0,886.8 L447.5,886.3 L450.0,885.7 L452.5,885.2 L455.0,884.7 L457.5,884.2 L460.0,883.7 L462.5,883.2 L465.0,882.7 L467.5,882.1 L470.0,881.6 L472.5,881.1 L475.0,880.6 L477.5,880.1 L480.0,879.6 L482.5,879.1 L485.0,878.6 L487.5,878.1 L490.0,877.6 L492.5,877.1 L495.0,876.6 L497.5,876.1 L500.0,875.6 L502.5,875.1 L505.0,874.6 L507.5,874.0 L510.0,873.5 L512.5,873.0 L515.0,872.4 L517.5,871.9 L520.0,871.3 L522.5,870.7 L525.0,870.1 L527.5,869.4 L530.0,868.7 L532.5,868.0 L535.0,867.2 L537.5,866.3 L540.0,865.4 L542.5,864.4 L545.0,863.3 L547.5,862.0 L550.0,860.7 L552.5,859.2 L555.0,857.5 L557.5,855.7 L560.0,853.6 L562.5,851.3 L565.0,848.8 L567.5,846.0 L570.0,842.9 L572.5,839.5 L575.0,835.8 L577.5,831.7 L580.0,827.2 L582.5,822.4 L585.0,817.2 L587.5,811.6 L590.0,805.6 L592.5,799.2 L595.0,792.4 L597.5,785.4 L600.0,778.0 L602.5,770.4 L605.0,762.5 L607.5,754.5 L610.0,746.4 L612.5,738.3 L615.0,730.1 L617.5,722.1 L620.0,714.3 L622.5,706.8 L625.0,699.6 L627.5,692.9 L630.0,686.6 L632.5,681.0 L635.0,676.0 L637.5,671.7 L640.0,668.1 L642.5,665.4 L645.0,663.5 L647.5,662.4 L650.0,662.2 L652.5,662.8 L655.0,664.2 L657.5,666.4 L660.0,669.4 L662.5,673.1 L665.0,677.4 L667.5,682.2 L670.0,687.6 L672.5,693.5 L675.0,699.6 L677.5,706.1 L680.0,712.8 L682.5,719.5 L685.0,726.4 L687.5,733.2 L690.0,740.0 L692.5,746.6 L695.0,753.0 L697.5,759.2 L700.0,765.1 L702.5,770.8 L705.0,776.1 L707.5,781.0 L710.0,785.7 L712.5,789.9 L715.0,793.8 L717.5,797.4 L720.0,800.6 L722.5,803.5 L725.0,806.1 L727.5,808.4 L730.0,810.4 L732.5,812.2 L735.0,813.7 L737.5,815.0 L740.0,816.1 L742.5,817.1 L745.0,817.9 L747.5,818.5 L750.0,819.1 L752.5,819.5 L755.0,819.8 L757.5,820.1 L760.0,820.3 L762.5,820.5 L765.0,820.6 L767.5,820.6 L770.0,820.7 L772.5,820.7 L775.0,820.7 L777.5,820.6 L780.0,820.6 L782.5,820.6 L785.0,820.5 L787.5,820.5 L790.0,820.4 L792.5,820.4 L795.0,820.3 L797.5,820.3 L800.0,820.2 L802.5,820.2 L805.0,820.2 L807.5,820.2 L810.0,820.1 L812.5,820.1 L815.0,820.1 L817.5,820.1 L820.0,820.1 L822.5,820.1 L825.0,820.1 L827.5,820.2 L830.0,820.2 L832.5,820.2 L835.0,820.3 L837.5,820.3 L840.0,820.4 L842.5,820.4 L845.0,820.5 L847.5,820.5 L850.0,820.6 L852.5,820.7 L855.0,820.8 L857.5,820.8 L860.0,820.9 L862.5,821.0 L865.0,821.1 L867.5,821.2 L870.0,821.3 L872.5,821.5 L875.0,821.6 L877.5,821.7 L880.0,821.8 L882.5,822.0 L885.0,822.1 L887.5,822.2 L890.0,822.4 L892.5,822.5 L895.0,822.7 L897.5,822.8 L900.0,823.0 L902.5,823.1 L905.0,823.3 L907.5,823.5 L910.0,823.6 L912.5,823.8 L915.0,824.0 L917.5,824.2 L920.0,824.3 L922.5,824.5 L925.0,824.7 L927.5,824.9 L930.0,825.1 L932.5,825.3 L935.0,825.5 L937.5,825.7 L940.0,825.9 L942.5,826.1 L945.0,826.3 L947.5,826.5 L950.0,826.7 L952.5,826.9 L955.0,827.2 L957.5,827.4 L960.0,827.6 L962.5,827.8 L965.0,828.1 L967.5,828.3 L970.0,828.5 L972.5,828.7 L975.0,829.0 L977.5,829.2 L980.0,829.5 L982.5,829.7 L985.0,829.9 L987.5,830.2 L990.0,830.4 L992.5,830.7 L995.0,830.9 L997.5,831.2 L1000.0,831.4 L1002.5,831.7 L1005.0,831.9 L1007.5,832.2 L1010.0,832.4 L1012.5,832.7 L1015.0,833.0 L1017.5,833.2 L1020.0,833.5 L1022.5,833.7 L1025.0,834.0 L1027.5,834.3 L1030.0,834.5 L1032.5,834.8 L1035.0,835.1 L1037.5,835.3 L1040.0,835.6 L1042.5,835.9 L1045.0,836.1 L1047.5,836.4 L1050.0,836.7 L1052.5,836.9 L1055.0,837.2 L1057.5,837.5 L1060.0,837.7 L1062.5,838.0 L1065.0,838.3 L1067.5,838.5 L1070.0,838.8 L1072.5,839.1 L1075.0,839.4 L1077.5,839.6 L1080.0,839.9 L1082.5,840.1 L1085.0,840.4 L1087.5,840.7 L1090.0,840.9 L1092.5,841.2 L1095.0,841.4 L1097.5,841.7 L1100.0,841.9 L1102.5,842.2 L1105.0,842.4 L1107.5,842.7 L1110.0,842.9 L1112.5,843.2 L1115.0,843.4 L1117.5,843.6 L1120.0,843.9 L1122.5,844.1 L1125.0,844.3 L1127.5,844.6 L1130.0,844.8 L1132.5,845.0 L1135.0,845.2 L1137.5,845.4 L1140.0,845.6 L1142.5,845.8 L1145.0,846.0 L1147.5,846.2 L1150.0,846.4 L1152.5,846.6 L1155.0,846.8 L1157.5,846.9 L1160.0,847.1 L1162.5,847.3 L1165.0,847.4 L1167.5,847.6 L1170.0,847.7 L1172.5,847.9 L1175.0,848.0 L1177.5,848.1 L1180.0,848.3 L1182.5,848.4 L1185.0,848.5 L1187.5,848.6 L1190.0,848.7 L1192.5,848.8 L1195.0,848.9 L1197.5,849.0 L1200.0,849.1 L1202.5,849.1 L1205.0,849.2 L1207.5,849.3 L1210.0,849.3 L1212.5,849.4 L1215.0,849.4 L1217.5,849.4 L1220.0,849.4 L1222.5,849.5 L1225.0,849.5 L1227.5,849.5 L1230.0,849.5 L1232.5,849.5 L1235.0,849.5 L1237.5,849.5 L1240.0,849.4 L1242.5,849.4 L1245.0,849.4 L1247.5,849.3 L1250.0,849.3 L1252.5,849.2 L1255.0,849.2 L1257.5,849.1 L1260.0,849.1 L1262.5,849.0 L1265.0,848.9 L1267.5,848.8 L1270.0,848.7 L1272.5,848.6 L1275.0,848.5 L1277.5,848.4 L1280.0,848.3 L1282.5,848.2 L1285.0,848.1 L1287.5,847.9 L1290.0,847.8 L1292.5,847.7 L1295.0,847.5 L1297.5,847.4 L1300.0,847.2 L1302.5,847.0 L1305.0,846.9 L1307.5,846.7 L1310.0,846.5 L1312.5,846.3 L1315.0,846.1 L1317.5,845.9 L1320.0,845.7 L1322.5,845.5 L1325.0,845.3 L1327.5,845.1 L1330.0,844.9 L1332.5,844.7 L1335.0,844.4 L1337.5,844.2 L1340.0,844.0 L1342.5,843.7 L1345.0,843.5 L1347.5,843.2 L1350.0,842.9 L1352.5,842.7 L1355.0,842.4 L1357.5,842.1 L1360.0,841.8 L1362.5,841.6 L1365.0,841.3 L1367.5,841.0 L1370.0,840.7 L1372.5,840.4 L1375.0,840.1 L1377.5,839.7 L1380.0,839.4 L1382.5,839.1 L1385.0,838.8 L1387.5,838.4 L1390.0,838.1 L1392.5,837.8 L1395.0,837.4 L1397.5,837.1 L1400.0,836.7 L1402.5,836.3 L1405.0,836.0 L1407.5,835.6 L1410.0,835.2 L1412.5,834.9 L1415.0,834.5 L1417.5,834.1 L1420.0,833.7 L1422.5,833.3 L1425.0,832.9 L1427.5,832.5 L1430.0,832.1 L1432.5,831.7 L1435.0,831.3 L1437.5,830.8 L1440.0,830.4 L1442.5,830.0 L1445.0,829.6 L1447.5,829.1 L1450.0,828.7 L1452.5,828.2 L1455.0,827.8 L1457.5,827.3 L1460.0,826.9 L1462.5,826.4 L1465.0,826.0 L1467.5,825.5 L1470.0,825.0 L1472.5,824.6 L1475.0,824.1 L1477.5,823.6 L1480.0,823.1 L1482.5,822.7 L1485.0,822.2 L1487.5,821.7 L1490.0,821.2 L1492.5,820.7 L1495.0,820.2 L1497.5,819.7 L1500.0,819.3 L1502.5,818.8 L1505.0,818.3 L1507.5,817.8 L1510.0,817.3 L1512.5,816.8 L1515.0,816.3 L1517.5,815.8 L1520.0,815.3 L1522.5,814.8 L1525.0,814.3 L1527.5,813.7 L1530.0,813.2 L1532.5,812.7 L1535.0,812.2 L1537.5,811.7 L1540.0,811.2 L1542.5,810.7 L1545.0,810.2 L1547.5,809.7 L1550.0,809.2 L1552.5,808.7 L1555.0,808.2 L1557.5,807.7 L1560.0,807.2 L1562.5,806.7 L1565.0,806.2 L1567.5,805.7 L1570.0,805.2 L1572.5,804.7 L1575.0,804.2 L1577.5,803.7 L1580.0,803.2 L1582.5,802.8 L1585.0,802.3 L1587.5,801.8 L1590.0,801.3 L1592.5,800.8 L1595.0,800.4 L1597.5,799.9 L1600.0,799.4 L1602.5,799.0 L1605.0,798.5 L1607.5,798.0 L1610.0,797.6 L1612.5,797.1 L1615.0,796.7 L1617.5,796.2 L1620.0,795.8 L1622.5,795.4 L1625.0,794.9 L1627.5,794.5 L1630.0,794.1 L1632.5,793.7 L1635.0,793.3 L1637.5,792.9 L1640.0,792.5 L1642.5,792.1 L1645.0,791.7 L1647.5,791.3 L1650.0,790.9 L1652.5,790.6 L1655.0,790.2 L1657.5,789.8 L1660.0,789.5 L1662.5,789.1 L1665.0,788.8 L1667.5,788.5 L1670.0,788.1 L1672.5,787.8 L1675.0,787.5 L1677.5,787.2 L1680.0,786.9 L1682.5,786.6 L1685.0,786.3 L1687.5,786.1 L1690.0,785.8 L1692.5,785.5 L1695.0,785.3 L1697.5,785.0 L1700.0,784.8 L1702.5,784.5 L1705.0,784.3 L1707.5,784.1 L1710.0,783.9 L1712.5,783.6 L1715.0,783.4 L1717.5,783.2 L1720.0,783.0 L1722.5,782.8 L1725.0,782.6 L1727.5,782.5 L1730.0,782.3 L1732.5,782.1 L1735.0,781.9 L1737.5,781.8 L1740.0,781.6 L1742.5,781.5 L1745.0,781.3 L1747.5,781.2 L1750.0,781.0 L1752.5,780.9 L1755.0,780.8 L1757.5,780.6 L1760.0,780.5 L1762.5,780.4 L1765.0,780.3 L1767.5,780.2 L1770.0,780.1 L1772.5,780.0 L1775.0,779.9 L1777.5,779.8 L1780.0,779.7 L1782.5,779.6 L1785.0,779.5 L1787.5,779.4 L1790.0,779.3 L1792.5,779.3 L1795.0,779.2 L1797.5,779.1 L1800.0,779.1 L1802.5,779.0 L1805.0,779.0 L1807.5,778.9 L1810.0,778.8 L1812.5,778.8 L1815.0,778.8 L1817.5,778.7 L1820.0,778.7 L1822.5,778.6 L1825.0,778.6 L1827.5,778.6 L1830.0,778.5 L1832.5,778.5 L1835.0,778.5 L1837.5,778.4 L1840.0,778.4 L1842.5,778.4 L1845.0,778.4 L1847.5,778.4 L1850.0,778.3 L1852.5,778.3 L1855.0,778.3 L1857.5,778.3 L1860.0,778.3 L1862.5,778.3 L1865.0,778.3 L1867.5,778.3 L1870.0,778.3 L1872.5,778.2 L1875.0,778.2 L1877.5,778.2 L1880.0,778.2 L1882.5,778.2 L1885.0,778.2 L1887.5,778.2 L1890.0,778.2 L1892.5,778.2 L1895.0,778.2 L1897.5,778.2 L1900.0,778.2 L1902.5,778.2 L1905.0,778.2 L1907.5,778.2 L1910.0,778.2 L1912.5,778.2 L1915.0,778.2 L1917.5,778.2 L1920.0,778.2 L1922.5,778.2 L1925.0,778.2" stroke="#800000" stroke-width="8"/>
<path d="M205.0,903.8 L208.0,903.7 L211.0,903.6 L214.0,903.5 L217.0,903.5 L220.0,903.4 L223.0,903.3 L226.0,903.3 L229.0,903.3 L232.0,903.3 L235.0,903.3 L238.0,903.2 L241.0,903.3 L244.0,903.3 L247.0,903.3 L250.0,903.3 L253.0,903.3 L256.0,903.3 L259.0,903.4 L262.0,903.4 L265.0,903.4 L268.0,903.5 L271.0,903.5 L274.0,903.5 L277.0,903.5 L280.0,903.6 L283.0,903.6 L286.0,903.6 L289.0,903.6 L292.0,903.6 L295.0,903.6 L298.0,903.6 L301.0,903.6 L304.0,903.6 L307.0,903.6 L310.0,903.5 L313.0,903.5 L316.0,903.4 L319.0,903.4 L322.0,903.3 L325.0,903.2 L328.0,903.1 L331.0,902.9 L334.0,902.8 L337.0,902.7 L340.0,902.5 L343.0,902.3 L346.0,902.1 L349.0,901.9 L352.0,901.6 L355.0,901.4 L358.0,901.1 L361.0,900.8 L364.0,900.5 L367.0,900.1 L370.0,899.8 L373.0,899.4 L376.0,899.0 L379.0,898.6 L382.0,898.2 L385.0,897.8 L388.0,897.3 L391.0,896.9 L394.0,896.4 L397.0,895.9 L400.0,895.4 L403.0,894.9 L406.0,894.4 L409.0,893.8 L412.0,893.3 L415.0,892.7 L418.0,892.2 L421.0,891.6 L424.0,891.0 L427.0,890.5 L430.0,889.9 L433.0,889.3 L436.0,888.7 L439.0,888.1 L442.0,887.5 L445.0,886.9 L448.0,886.3 L451.0,885.7 L454.0,885.1 L457.0,884.4 L460.0,883.8 L463.0,883.2 L466.0,882.6 L469.0,882.0 L472.0,881.4 L475.0,880.8 L478.0,880.2 L481.0,879.6 L484.0,879.0 L487.0,878.4 L490.0,877.8 L493.0,877.2 L496.0,876.6 L499.0,876.0 L502.0,875.5 L505.0,874.9 L508.0,874.3 L511.0,873.7 L514.0,873.1 L517.0,872.6 L520.0,872.0 L523.0,871.4 L526.0,870.8 L529.0,870.2 L532.0,869.6 L535.0,869.0 L538.0,868.4 L541.0,867.8 L544.0,867.2 L547.0,866.6 L550.0,866.0 L553.0,865.4 L556.0,864.8 L559.0,864.2 L562.0,863.5 L565.0,862.9 L568.0,862.2 L571.0,861.6 L574.0,860.9 L577.0,860.2 L580.0,859.5 L583.0,858.7 L586.0,857.9 L589.0,857.1 L592.0,856.3 L595.0,855.4 L598.0,854.6 L601.0,853.7 L604.0,852.7 L607.0,851.8 L610.0,850.8 L613.0,849.9 L616.0,849.0 L619.0,848.0 L622.0,847.1 L625.0,846.2 L628.0,845.3 L631.0,844.4 L634.0,843.5 L637.0,842.7 L640.0,841.9 L643.0,841.1 L646.0,840.3 L649.0,839.5 L652.0,838.8 L655.0,838.0 L658.0,837.3 L661.0,836.6 L664.0,835.9 L667.0,835.3 L670.0,834.6 L673.0,834.0 L676.0,833.4 L679.0,832.8 L682.0,832.2 L685.0,831.6 L688.0,831.1 L691.0,830.5 L694.0,830.0 L697.0,829.5 L700.0,829.0 L703.0,828.6 L706.0,828.1 L709.0,827.7 L712.0,827.2 L715.0,826.8 L718.0,826.4 L721.0,826.0 L724.0,825.7 L727.0,825.3 L730.0,825.0 L733.0,824.6 L736.0,824.3 L739.0,824.0 L742.0,823.7 L745.0,823.4 L748.0,823.2 L751.0,822.9 L754.0,822.7 L757.0,822.5 L760.0,822.3 L763.0,822.0 L766.0,821.9 L769.0,821.7 L772.0,821.5 L775.0,821.4 L778.0,821.2 L781.0,821.1 L784.0,821.0 L787.0,820.8 L790.0,820.7 L793.0,820.7 L796.0,820.6 L799.0,820.5 L802.0,820.4 L805.0,820.4 L808.0,820.4 L811.0,820.3 L814.0,820.3 L817.0,820.3 L820.0,820.3 L823.0,820.3 L826.0,820.3 L829.0,820.3 L832.0,820.4 L835.0,820.4 L838.0,820.5 L841.0,820.5 L844.0,820.6 L847.0,820.6 L850.0,820.7 L853.0,820.8 L856.0,820.9 L859.0,821.0 L862.0,821.1 L865.0,821.2 L868.0,821.4 L871.0,821.5 L874.0,821.6 L877.0,821.8 L880.0,821.9 L883.0,822.1 L886.0,822.2 L889.0,822.4 L892.0,822.6 L895.0,822.7 L898.0,822.9 L901.0,823.1 L904.0,823.3 L907.0,823.5 L910.0,823.7 L913.0,823.9 L916.0,824.1 L919.0,824.3 L922.0,824.5 L925.0,824.8 L928.0,825.0 L931.0,825.2 L934.0,825.5 L937.0,825.7 L940.0,825.9 L943.0,826.2 L946.0,826.4 L949.0,826.7 L952.0,827.0 L955.0,827.2 L958.0,827.5 L961.0,827.7 L964.0,828.0 L967.0,828.3 L970.0,828.6 L973.0,828.8 L976.0,829.1 L979.0,829.4 L982.0,829.7 L985.0,830.0 L988.0,830.3 L991.0,830.6 L994.0,830.9 L997.0,831.2 L1000.0,831.5 L1003.0,831.8 L1006.0,832.1 L1009.0,832.4 L1012.0,832.7 L1015.0,833.0 L1018.0,833.3 L1021.0,833.6 L1024.0,833.9 L1027.0,834.3 L1030.0,834.6 L1033.0,834.9 L1036.0,835.2 L1039.0,835.5 L1042.0,835.8 L1045.0,836.2 L1048.0,836.5 L1051.0,836.8 L1054.0,837.1 L1057.0,837.5 L1060.0,837.8 L1063.0,838.1 L1066.0,838.4 L1069.0,838.7 L1072.0,839.1 L1075.0,839.4 L1078.0,839.7 L1081.0,840.0 L1084.0,840.3 L1087.0,840.6 L1090.0,841.0 L1093.0,841.3 L1096.0,841.6 L1099.0,841.9 L1102.0,842.2 L1105.0,842.5 L1108.0,842.8 L1111.0,843.1 L1114.0,843.3 L1117.0,843.6 L1120.0,843.9 L1123.0,844.2 L1126.0,844.4 L1129.0,844.7 L1132.0,845.0 L1135.0,845.2 L1138.0,845.5 L1141.0,845.7 L1144.0,846.0 L1147.0,846.2 L1150.0,846.4 L1153.0,846.6 L1156.0,846.9 L1159.0,847.1 L1162.0,847.3 L1165.0,847.4 L1168.0,847.6 L1171.0,847.8 L1174.0,848.0 L1177.0,848.1 L1180.0,848.3 L1183.0,848.4 L1186.0,848.6 L1189.0,848.7 L1192.0,848.8 L1195.0,848.9 L1198.0,849.0 L1201.0,849.1 L1204.0,849.2 L1207.0,849.3 L1210.0,849.3 L1213.0,849.4 L1216.0,849.4 L1219.0,849.5 L1222.0,849.5 L1225.0,849.5 L1228.0,849.5 L1231.0,849.5 L1234.0,849.5 L1237.0,849.5 L1240.0,849.5 L1243.0,849.4 L1246.0,849.4 L1249.0,849.3 L1252.0,849.3 L1255.0,849.2 L1258.0,849.1 L1261.0,849.0 L1264.0,849.0 L1267.0,848.9 L1270.0,848.7 L1273.0,848.6 L1276.0,848.5 L1279.0,848.4 L1282.0,848.2 L1285.0,848.1 L1288.0,847.9 L1291.0,847.8 L1294.0,847.6 L1297.0,847.4 L1300.0,847.2 L1303.0,847.0 L1306.0,846.8 L1309.0,846.6 L1312.0,846.4 L1315.0,846.1 L1318.0,845.9 L1321.0,845.7 L1324.0,845.4 L1327.0,845.2 L1330.0,844.9 L1333.0,844.6 L1336.0,844.3 L1339.0,844.1 L1342.0,843.8 L1345.0,843.5 L1348.0,843.2 L1351.0,842.8 L1354.0,842.5 L1357.0,842.2 L1360.0,841.9 L1363.0,841.5 L1366.0,841.2 L1369.0,840.8 L1372.0,840.4 L1375.0,840.1 L1378.0,839.7 L1381.0,839.3 L1384.0,838.9 L1387.0,838.5 L1390.0,838.1 L1393.0,837.7 L1396.0,837.3 L1399.0,836.9 L1402.0,836.4 L1405.0,836.0 L1408.0,835.5 L1411.0,835.1 L1414.0,834.6 L1417.0,834.2 L1420.0,833.7 L1423.0,833.2 L1426.0,832.8 L1429.0,832.3 L1432.0,831.8 L1435.0,831.3 L1438.0,830.8 L1441.0,830.3 L1444.0,829.7 L1447.0,829.2 L1450.0,828.7 L1453.0,828.2 L1456.0,827.6 L1459.0,827.1 L1462.0,826.5 L1465.0,826.0 L1468.0,825.4 L1471.0,824.9 L1474.0,824.3 L1477.0,823.7 L1480.0,823.2 L1483.0,822.6 L1486.0,822.0 L1489.0,821.4 L1492.0,820.8 L1495.0,820.2 L1498.0,819.7 L1501.0,819.1 L1504.0,818.5 L1507.0,817.9 L1510.0,817.3 L1513.0,816.7 L1516.0,816.1 L1519.0,815.5 L1522.0,814.9 L1525.0,814.3 L1528.0,813.7 L1531.0,813.0 L1534.0,812.4 L1537.0,811.8 L1540.0,811.2 L1543.0,810.6 L1546.0,810.0 L1549.0,809.4 L1552.0,808.8 L1555.0,808.2 L1558.0,807.6 L1561.0,807.0 L1564.0,806.4 L1567.0,805.8 L1570.0,805.2 L1573.0,804.6 L1576.0,804.0 L1579.0,803.4 L1582.0,802.9 L1585.0,802.3 L1588.0,801.7 L1591.0,801.1 L1594.0,800.6 L1597.0,800.0 L1600.0,799.4 L1603.0,798.9 L1606.0,798.3 L1609.0,797.8 L1612.0,797.2 L1615.0,796.7 L1618.0,796.2 L1621.0,795.6 L1624.0,795.1 L1627.0,794.6 L1630.0,794.1 L1633.0,793.6 L1636.0,793.1 L1639.0,792.6 L1642.0,792.2 L1645.0,791.7 L1648.0,791.2 L1651.0,790.8 L1654.0,790.3 L1657.0,789.9 L1660.0,789.5 L1663.0,789.1 L1666.0,788.7 L1669.0,788.3 L1672.0,787.9 L1675.0,787.5 L1678.0,787.2 L1681.0,786.8 L1684.0,786.5 L1687.0,786.1 L1690.0,785.8 L1693.0,785.5 L1696.0,785.2 L1699.0,784.9 L1702.0,784.6 L1705.0,784.3 L1708.0,784.0 L1711.0,783.8 L1714.0,783.5 L1717.0,783.3 L1720.0,783.0 L1723.0,782.8 L1726.0,782.6 L1729.0,782.4 L1732.0,782.1 L1735.0,781.9 L1738.0,781.7 L1741.0,781.6 L1744.0,781.4 L1747.0,781.2 L1750.0,781.0 L1753.0,780.9 L1756.0,780.7 L1759.0,780.6 L1762.0,780.4 L1765.0,780.3 L1768.0,780.1 L1771.0,780.0 L1774.0,779.9 L1777.0,779.8 L1780.0,779.7 L1783.0,779.6 L1786.0,779.5 L1789.0,779.4 L1792.0,779.3 L1795.0,779.2 L1798.0,779.1 L1801.0,779.1 L1804.0,779.0 L1807.0,778.9 L1810.0,778.8 L1813.0,778.8 L1816.0,778.7 L1819.0,778.7 L1822.0,778.6 L1825.0,778.6 L1828.0,778.6 L1831.0,778.5 L1834.0,778.5 L1837.0,778.4 L1840.0,778.4 L1843.0,778.4 L1846.0,778.4 L1849.0,778.3 L1852.0,778.3 L1855.0,778.3 L1858.0,778.3 L1861.0,778.3 L1864.0,778.3 L1867.0,778.3 L1870.0,778.3 L1873.0,778.3 L1876.0,778.2 L1879.0,778.2 L1882.0,778.2 L1885.0,778.2 L1888.0,778.2 L1891.0,778.2 L1894.0,778.2 L1897.0,778.2 L1900.0,778.2 L1903.0,778.2 L1906.0,778.2 L1909.0,778.2 L1912.0,778.2 L1915.0,778.2 L1918.0,778.2 L1921.0,778.2 L1924.0,778.2" stroke="#808000" stroke-width="8"/>
<path d="M205.0,889.0 L209.3,893.4 L213.6,901.5 L218.0,889.1 L222.3,898.2 L226.6,891.2 L230.9,888.6 L235.2,885.9 L239.6,894.4 L243.9,891.7 L248.2,891.5 L252.5,887.5 L256.8,886.1 L261.2,894.5 L265.5,897.6 L269.8,884.1 L274.1,889.4 L278.4,891.1 L282.8,901.8 L287.1,896.6 L291.4,899.6 L295.7,899.3 L300.0,888.5 L304.4,902.2 L308.7,895.9 L313.0,887.2 L317.3,895.8 L321.6,889.3 L326.0,897.1 L330.3,883.8 L334.6,888.5 L338.9,886.5 L343.2,882.9 L347.6,884.1 L351.9,892.3 L356.2,891.9 L360.5,891.5 L364.8,882.9 L369.2,886.6 L373.5,889.1 L377.8,885.5 L382.1,887.7 L386.4,890.9 L390.8,883.7 L395.1,892.6 L399.4,889.5 L403.7,885.9 L408.0,900.0 L412.4,878.5 L416.7,891.3 L421.0,890.1 L425.3,874.1 L429.6,871.7 L434.0,881.5 L438.3,877.7 L442.6,885.6 L446.9,875.2 L451.2,873.1 L455.6,883.9 L459.9,863.6 L464.2,867.5 L468.5,871.4 L472.8,859.8 L477.2,857.0 L481.5,840.6 L485.8,839.7 L490.1,828.6 L494.4,821.0 L498.8,815.0 L503.1,817.3 L507.4,796.5 L511.7,790.8 L516.0,775.0 L520.4,778.6 L524.7,761.6 L529.0,752.9 L533.3,753.3 L537.6,753.2 L542.0,749.2 L546.3,746.6 L550.6,723.6 L554.9,739.0 L559.2,725.3 L563.6,723.7 L567.9,715.1 L572.2,710.8 L576.5,717.6 L580.8,704.1 L585.2,700.2 L589.5,687.5 L593.8,684.7 L598.1,675.5 L602.4,679.0 L606.8,658.2 L611.1,658.2 L615.4,628.4 L619.7,633.3 L624.0,625.8 L628.4,628.9 L632.7,617.6 L637.0,624.3 L641.3,612.3 L645.6,608.2 L650.0,618.3 L654.3,618.4 L658.6,623.6 L662.9,644.8 L667.2,631.7 L671.6,646.7 L675.9,662.4 L680.2,661.1 L684.5,673.3 L688.8,695.7 L693.2,696.9 L697.5,724.8 L701.8,726.5 L706.1,742.6 L710.4,754.6 L714.8,759.3 L719.1,765.9 L723.4,776.2 L727.7,784.1 L732.0,785.4 L736.4,796.8 L740.7,793.3 L745.0,808.3 L749.3,800.9 L753.6,809.8 L758.0,806.7 L762.3,806.6 L766.6,809.0 L770.9,813.6 L775.2,811.2 L779.6,819.3 L783.9,820.7 L788.2,819.2 L792.5,821.1 L796.8,821.7 L801.2,816.1 L805.5,820.4 L809.8,816.6 L814.1,815.5 L818.4,813.3 L822.8,813.4 L827.1,811.7 L831.4,810.8 L835.7,814.2 L840.0,811.0 L844.4,815.9 L848.7,803.2 L853.0,804.9 L857.3,796.7 L861.6,804.5 L866.0,798.1 L870.3,794.3 L874.6,797.6 L878.9,792.1 L883.2,789.8 L887.6,778.9 L891.9,783.7 L896.2,787.0 L900.5,779.2 L904.8,770.1 L909.2,766.9 L913.5,767.8 L917.8,771.0 L922.1,760.6 L926.4,756.4 L930.8,750.2 L935.1,751.5 L939.4,755.1 L943.7,752.2 L948.0,752.4 L952.4,743.1 L956.7,745.1 L961.0,740.7 L965.3,741.5 L969.6,748.2 L974.0,743.6 L978.3,746.8 L982.6,743.7 L986.9,744.0 L991.2,738.9 L995.6,742.1 L999.9,744.1 L1004.2,731.5 L1008.5,735.1 L1012.8,737.1 L1017.2,735.5 L1021.5,752.5 L1025.8,755.8 L1030.1,756.3 L1034.4,766.6 L1038.8,756.6 L1043.1,753.0 L1047.4,763.7 L1051.7,768.8 L1056.0,768.6 L1060.4,773.5 L1064.7,775.0 L1069.0,789.4 L1073.3,798.1 L1077.6,802.2 L1082.0,802.8 L1086.3,804.0 L1090.6,809.8 L1094.9,811.3 L1099.2,814.2 L1103.6,821.9 L1107.9,824.4 L1112.2,811.4 L1116.5,833.7 L1120.8,828.9 L1125.2,833.6 L1129.5,842.5 L1133.8,846.5 L1138.1,847.2 L1142.4,844.8 L1146.8,841.9 L1151.1,833.8 L1155.4,836.1 L1159.7,845.7 L1164.0,840.7 L1168.4,843.2 L1172.7,836.6 L1177.0,850.8 L1181.3,843.9 L1185.6,835.9 L1190.0,846.7 L1194.3,843.9 L1198.6,849.3 L1202.9,841.0 L1207.2,843.3 L1211.6,843.7 L1215.9,845.7 L1220.2,843.6 L1224.5,839.2 L1228.8,840.5 L1233.2,838.8 L1237.5,830.1 L1241.8,840.0 L1246.1,837.8 L1250.4,845.3 L1254.8,841.0 L1259.1,837.8 L1263.4,836.6 L1267.7,841.3 L1272.0,829.4 L1276.4,833.3 L1280.7,841.9 L1285.0,834.4 L1289.3,839.6 L1293.6,834.7 L1298.0,835.9 L1302.3,832.8 L1306.6,832.7 L1310.9,824.0 L1315.2,816.4 L1319.6,821.3 L1323.9,817.2 L1328.2,823.2 L1332.5,827.4 L1336.8,824.2 L1341.2,806.1 L1345.5,804.9 L1349.8,806.5 L1354.1,801.4 L1358.4,798.6 L1362.8,780.0 L1367.1,787.0 L1371.4,788.7 L1375.7,772.6 L1380.0,779.1 L1384.4,780.3 L1388.7,769.7 L1393.0,771.1 L1397.3,763.7 L1401.6,769.3 L1406.0,772.9 L1410.3,753.2 L1414.6,757.2 L1418.9,764.2 L1423.2,753.1 L1427.6,741.9 L1431.9,749.0 L1436.2,750.6 L1440.5,760.5 L1444.8,752.6 L1449.2,748.4 L1453.5,726.0 L1457.8,730.0 L1462.1,731.2 L1466.4,718.7 L1470.8,717.2 L1475.1,713.6 L1479.4,703.3 L1483.7,705.8 L1488.0,716.5 L1492.4,704.9 L1496.7,704.2 L1501.0,701.8 L1505.3,704.2 L1509.6,696.5 L1514.0,709.2 L1518.3,705.2 L1522.6,701.7 L1526.9,719.0 L1531.2,704.1 L1535.6,719.1 L1539.9,733.7 L1544.2,712.0 L1548.5,731.2 L1552.8,738.3 L1557.2,734.7 L1561.5,742.7 L1565.8,753.2 L1570.1,766.5 L1574.4,749.7 L1578.8,754.8 L1583.1,764.5 L1587.4,774.6 L1591.7,765.0 L1596.0,763.9 L1600.4,772.1 L1604.7,772.2 L1609.0,781.8 L1613.3,787.3 L1617.6,776.8 L1622.0,777.0 L1626.3,779.0 L1630.6,784.0 L1634.9,785.3 L1639.2,781.7 L1643.6,782.9 L1647.9,775.4 L1652.2,784.2 L1656.5,787.9 L1660.8,783.8 L1665.2,790.3 L1669.5,791.2 L1673.8,780.2 L1678.1,787.6 L1682.4,788.6 L1686.8,781.5 L1691.1,776.0 L1695.4,775.8 L1699.7,785.4 L1704.0,790.7 L1708.4,787.6 L1712.7,777.5 L1717.0,776.2 L1721.3,777.5 L1725.6,781.6 L1730.0,774.8 L1734.3,779.8 L1738.6,774.8 L1742.9,759.4 L1747.2,759.2 L1751.6,767.6 L1755.9,767.4 L1760.2,766.3 L1764.5,750.6 L1768.8,754.8 L1773.2,746.4 L1777.5,744.2 L1781.8,747.6 L1786.1,738.7 L1790.4,737.6 L1794.8,720.9 L1799.1,729.3 L1803.4,726.7 L1807.7,719.9 L1812.0,714.2 L1816.4,712.2 L1820.7,714.9 L1825.0,712.2 L1829.3,711.0 L1833.6,703.7 L1838.0,717.0 L1842.3,712.3 L1846.6,709.8 L1850.9,716.7 L1855.2,724.1 L1859.6,718.1 L1863.9,728.1 L1868.2,731.7 L1872.5,726.1 L1876.8,736.7 L1881.2,739.9 L1885.5,741.4 L1889.8,749.4 L1894.1,753.9 L1898.4,755.8 L1902.8,757.3 L1907.1,764.7 L1911.4,765.6 L1915.7,769.8 L1920.0,766.2 L1924.4,767.7" stroke="#2c63a6" stroke-width="8.8"/>
<path d="M205.0,1232.4 L207.5,1232.2 L210.0,1232.1 L212.5,1231.9 L215.0,1231.7 L217.5,1231.5 L220.0,1231.3 L222.5,1231.2 L225.0,1231.0 L227.5,1230.8 L230.0,1230.6 L232.5,1230.3 L235.0,1230.1 L237.5,1229.9 L240.0,1229.7 L242.5,1229.5 L245.0,1229.3 L247.5,1229.0 L250.0,1228.8 L252.5,1228.6 L255.0,1228.3 L257.5,1228.1 L260.0,1227.8 L262.5,1227.6 L265.0,1227.3 L267.5,1227.1 L270.0,1226.8 L272.5,1226.6 L275.0,1226.3 L277.5,1226.0 L280.0,1225.8 L282.5,1225.5 L285.0,1225.2 L287.5,1224.9 L290.0,1224.7 L292.5,1224.4 L295.0,1224.1 L297.5,1223.8 L300.0,1223.5 L302.5,1223.2 L305.0,1222.9 L307.5,1222.6 L310.0,1222.3 L312.5,1222.0 L315.0,1221.7 L317.5,1221.4 L320.0,1221.1 L322.5,1220.8 L325.0,1220.5 L327.5,1220.2 L330.0,1219.9 L332.5,1219.5 L335.0,1219.2 L337.5,1218.9 L340.0,1218.6 L342.5,1218.3 L345.0,1217.9 L347.5,1217.6 L350.0,1217.3 L352.5,1216.9 L355.0,1216.6 L357.5,1216.2 L360.0,1215.9 L362.5,1215.6 L365.0,1215.2 L367.5,1214.9 L370.0,1214.5 L372.5,1214.2 L375.0,1213.8 L377.5,1213.4 L380.0,1213.0 L382.5,1212.7 L385.0,1212.3 L387.5,1211.9 L390.0,1211.5 L392.5,1211.0 L395.0,1210.6 L397.5,1210.2 L400.0,1209.7 L402.5,1209.2 L405.0,1208.7 L407.5,1208.1 L410.0,1207.5 L412.5,1206.9 L415.0,1206.2 L417.5,1205.5 L420.0,1204.7 L422.5,1203.9 L425.0,1203.0 L427.5,1202.0 L430.0,1200.9 L432.5,1199.7 L435.0,1198.4 L437.5,1196.9 L440.0,1195.4 L442.5,1193.6 L445.0,1191.8 L447.5,1189.7 L450.0,1187.5 L452.5,1185.0 L455.0,1182.4 L457.5,1179.5 L460.0,1176.3 L462.5,1172.9 L465.0,1169.3 L467.5,1165.3 L470.0,1161.1 L472.5,1156.5 L475.0,1151.6 L477.5,1146.5 L480.0,1141.0 L482.5,1135.2 L485.0,1129.1 L487.5,1122.6 L490.0,1115.9 L492.5,1108.9 L495.0,1101.6 L497.5,1094.1 L500.0,1086.3 L502.5,1078.4 L505.0,1070.3 L507.5,1062.0 L510.0,1053.7 L512.5,1045.3 L515.0,1036.9 L517.5,1028.5 L520.0,1020.2 L522.5,1012.1 L525.0,1004.1 L527.5,996.4 L530.0,989.0 L532.5,981.9 L535.0,975.2 L537.5,969.0 L540.0,963.2 L542.5,958.0 L545.0,953.4 L547.5,949.4 L550.0,946.0 L552.5,943.3 L555.0,941.2 L557.5,939.9 L560.0,939.3 L562.5,939.4 L565.0,940.1 L567.5,941.5 L570.0,943.5 L572.5,946.1 L575.0,949.4 L577.5,953.2 L580.0,957.5 L582.5,962.3 L585.0,967.6 L587.5,973.4 L590.0,979.5 L592.5,985.9 L595.0,992.7 L597.5,999.7 L600.0,1006.9 L602.5,1014.2 L605.0,1021.6 L607.5,1029.2 L610.0,1036.7 L612.5,1044.2 L615.0,1051.7 L617.5,1059.0 L620.0,1066.2 L622.5,1073.3 L625.0,1080.2 L627.5,1086.9 L630.0,1093.3 L632.5,1099.5 L635.0,1105.5 L637.5,1111.1 L640.0,1116.5 L642.5,1121.6 L645.0,1126.4 L647.5,1130.9 L650.0,1135.2 L652.5,1139.1 L655.0,1142.8 L657.5,1146.2 L660.0,1149.3 L662.5,1152.2 L665.0,1154.8 L667.5,1157.3 L670.0,1159.4 L672.5,1161.4 L675.0,1163.2 L677.5,1164.9 L680.0,1166.3 L682.5,1167.6 L685.0,1168.8 L687.5,1169.8 L690.0,1170.7 L692.5,1171.5 L695.0,1172.2 L697.5,1172.8 L700.0,1173.3 L702.5,1173.8 L705.0,1174.2 L707.5,1174.5 L710.0,1174.8 L712.5,1175.1 L715.0,1175.3 L717.5,1175.5 L720.0,1175.6 L722.5,1175.7 L725.0,1175.8 L727.5,1175.9 L730.0,1176.0 L732.5,1176.1 L735.0,1176.1 L737.5,1176.2 L740.0,1176.2 L742.5,1176.3 L745.0,1176.3 L747.5,1176.4 L750.0,1176.4 L752.5,1176.4 L755.0,1176.5 L757.5,1176.5 L760.0,1176.6 L762.5,1176.6 L765.0,1176.7 L767.5,1176.8 L770.0,1176.8 L772.5,1176.9 L775.0,1177.0 L777.5,1177.1 L780.0,1177.1 L782.5,1177.2 L785.0,1177.3 L787.5,1177.4 L790.0,1177.5 L792.5,1177.6 L795.0,1177.7 L797.5,1177.8 L800.0,1178.0 L802.5,1178.1 L805.0,1178.2 L807.5,1178.3 L810.0,1178.5 L812.5,1178.6 L815.0,1178.7 L817.5,1178.9 L820.0,1179.0 L822.5,1179.2 L825.0,1179.3 L827.5,1179.5 L830.0,1179.6 L832.5,1179.8 L835.0,1179.9 L837.5,1180.1 L840.0,1180.3 L842.5,1180.4 L845.0,1180.6 L847.5,1180.8 L850.0,1181.0 L852.5,1181.1 L855.0,1181.3 L857.5,1181.5 L860.0,1181.7 L862.5,1181.9 L865.0,1182.1 L867.5,1182.3 L870.0,1182.4 L872.5,1182.6 L875.0,1182.8 L877.5,1183.0 L880.0,1183.2 L882.5,1183.4 L885.0,1183.6 L887.5,1183.8 L890.0,1184.0 L892.5,1184.2 L895.0,1184.4 L897.5,1184.6 L900.0,1184.8 L902.5,1185.0 L905.0,1185.2 L907.5,1185.4 L910.0,1185.6 L912.5,1185.8 L915.0,1186.0 L917.5,1186.2 L920.0,1186.4 L922.5,1186.6 L925.0,1186.8 L927.5,1187.0 L930.0,1187.2 L932.5,1187.4 L935.0,1187.5 L937.5,1187.7 L940.0,1187.9 L942.5,1188.1 L945.0,1188.3 L947.5,1188.5 L950.0,1188.7 L952.5,1188.8 L955.0,1189.0 L957.5,1189.2 L960.0,1189.4 L962.5,1189.6 L965.0,1189.7 L967.5,1189.9 L970.0,1190.1 L972.5,1190.2 L975.0,1190.4 L977.5,1190.5 L980.0,1190.7 L982.5,1190.8 L985.0,1191.0 L987.5,1191.1 L990.0,1191.3 L992.5,1191.4 L995.0,1191.6 L997.5,1191.7 L1000.0,1191.8 L1002.5,1191.9 L1005.0,1192.1 L1007.5,1192.2 L1010.0,1192.3 L1012.5,1192.4 L1015.0,1192.5 L1017.5,1192.6 L1020.0,1192.7 L1022.5,1192.8 L1025.0,1192.9 L1027.5,1193.0 L1030.0,1193.0 L1032.5,1193.1 L1035.0,1193.2 L1037.5,1193.2 L1040.0,1193.3 L1042.5,1193.4 L1045.0,1193.4 L1047.5,1193.4 L1050.0,1193.5 L1052.5,1193.5 L1055.0,1193.5 L1057.5,1193.5 L1060.0,1193.6 L1062.5,1193.6 L1065.0,1193.6 L1067.5,1193.6 L1070.0,1193.5 L1072.5,1193.5 L1075.0,1193.5 L1077.5,1193.5 L1080.0,1193.4 L1082.5,1193.4 L1085.0,1193.3 L1087.5,1193.3 L1090.0,1193.2 L1092.5,1193.1 L1095.0,1193.1 L1097.5,1193.0 L1100.0,1192.9 L1102.5,1192.8 L1105.0,1192.7 L1107.5,1192.5 L1110.0,1192.4 L1112.5,1192.3 L1115.0,1192.1 L1117.5,1192.0 L1120.0,1191.8 L1122.5,1191.7 L1125.0,1191.5 L1127.5,1191.3 L1130.0,1191.1 L1132.5,1190.9 L1135.0,1190.7 L1137.5,1190.5 L1140.0,1190.2 L1142.5,1190.0 L1145.0,1189.8 L1147.5,1189.5 L1150.0,1189.2 L1152.5,1189.0 L1155.0,1188.7 L1157.5,1188.4 L1160.0,1188.1 L1162.5,1187.8 L1165.0,1187.5 L1167.5,1187.1 L1170.0,1186.8 L1172.5,1186.5 L1175.0,1186.1 L1177.5,1185.8 L1180.0,1185.4 L1182.5,1185.0 L1185.0,1184.7 L1187.5,1184.3 L1190.0,1183.9 L1192.5,1183.5 L1195.0,1183.1 L1197.5,1182.7 L1200.0,1182.3 L1202.5,1181.8 L1205.0,1181.4 L1207.5,1181.0 L1210.0,1180.5 L1212.5,1180.1 L1215.0,1179.6 L1217.5,1179.1 L1220.0,1178.7 L1222.5,1178.2 L1225.0,1177.7 L1227.5,1177.2 L1230.0,1176.7 L1232.5,1176.2 L1235.0,1175.7 L1237.5,1175.2 L1240.0,1174.7 L1242.5,1174.2 L1245.0,1173.6 L1247.5,1173.1 L1250.0,1172.6 L1252.5,1172.0 L1255.0,1171.5 L1257.5,1170.9 L1260.0,1170.4 L1262.5,1169.8 L1265.0,1169.3 L1267.5,1168.7 L1270.0,1168.1 L1272.5,1167.5 L1275.0,1167.0 L1277.5,1166.4 L1280.0,1165.8 L1282.5,1165.2 L1285.0,1164.6 L1287.5,1164.0 L1290.0,1163.4 L1292.5,1162.8 L1295.0,1162.2 L1297.5,1161.6 L1300.0,1161.0 L1302.5,1160.4 L1305.0,1159.8 L1307.5,1159.1 L1310.0,1158.5 L1312.5,1157.9 L1315.0,1157.3 L1317.5,1156.6 L1320.0,1156.0 L1322.5,1155.4 L1325.0,1154.7 L1327.5,1154.1 L1330.0,1153.5 L1332.5,1152.8 L1335.0,1152.2 L1337.5,1151.5 L1340.0,1150.9 L1342.5,1150.3 L1345.0,1149.6 L1347.5,1149.0 L1350.0,1148.3 L1352.5,1147.7 L1355.0,1147.0 L1357.5,1146.4 L1360.0,1145.7 L1362.5,1145.1 L1365.0,1144.4 L1367.5,1143.8 L1370.0,1143.1 L1372.5,1142.5 L1375.0,1141.9 L1377.5,1141.2 L1380.0,1140.6 L1382.5,1139.9 L1385.0,1139.3 L1387.5,1138.7 L1390.0,1138.1 L1392.5,1137.4 L1395.0,1136.8 L1397.5,1136.2 L1400.0,1135.6 L1402.5,1135.0 L1405.0,1134.4 L1407.5,1133.8 L1410.0,1133.2 L1412.5,1132.6 L1415.0,1132.0 L1417.5,1131.4 L1420.0,1130.8 L1422.5,1130.3 L1425.0,1129.7 L1427.5,1129.1 L1430.0,1128.6 L1432.5,1128.0 L1435.0,1127.5 L1437.5,1127.0 L1440.0,1126.4 L1442.5,1125.9 L1445.0,1125.4 L1447.5,1124.9 L1450.0,1124.4 L1452.5,1123.9 L1455.0,1123.4 L1457.5,1123.0 L1460.0,1122.5 L1462.5,1122.1 L1465.0,1121.6 L1467.5,1121.2 L1470.0,1120.8 L1472.5,1120.3 L1475.0,1119.9 L1477.5,1119.5 L1480.0,1119.2 L1482.5,1118.8 L1485.0,1118.4 L1487.5,1118.1 L1490.0,1117.7 L1492.5,1117.4 L1495.0,1117.1 L1497.5,1116.8 L1500.0,1116.5 L1502.5,1116.2 L1505.0,1115.9 L1507.5,1115.7 L1510.0,1115.5 L1512.5,1115.2 L1515.0,1115.0 L1517.5,1114.8 L1520.0,1114.6 L1522.5,1114.4 L1525.0,1114.3 L1527.5,1114.1 L1530.0,1114.0 L1532.5,1113.9 L1535.0,1113.8 L1537.5,1113.7 L1540.0,1113.6 L1542.5,1113.5 L1545.0,1113.4 L1547.5,1113.4 L1550.0,1113.3 L1552.5,1113.3 L1555.0,1113.3 L1557.5,1113.2 L1560.0,1113.2 L1562.5,1113.2 L1565.0,1113.2 L1567.5,1113.3 L1570.0,1113.3 L1572.5,1113.3 L1575.0,1113.3 L1577.5,1113.4 L1580.0,1113.4 L1582.5,1113.5 L1585.0,1113.6 L1587.5,1113.6 L1590.0,1113.7 L1592.5,1113.8 L1595.0,1113.9 L1597.5,1114.0 L1600.0,1114.1 L1602.5,1114.2 L1605.0,1114.3 L1607.5,1114.4 L1610.0,1114.5 L1612.5,1114.6 L1615.0,1114.7 L1617.5,1114.8 L1620.0,1115.0 L1622.5,1115.1 L1625.0,1115.2 L1627.5,1115.3 L1630.0,1115.5 L1632.5,1115.6 L1635.0,1115.7 L1637.5,1115.8 L1640.0,1116.0 L1642.5,1116.1 L1645.0,1116.2 L1647.5,1116.3 L1650.0,1116.5 L1652.5,1116.6 L1655.0,1116.7 L1657.5,1116.8 L1660.0,1117.0 L1662.5,1117.1 L1665.0,1117.2 L1667.5,1117.3 L1670.0,1117.4 L1672.5,1117.5 L1675.0,1117.6 L1677.5,1117.7 L1680.0,1117.8 L1682.5,1117.8 L1685.0,1117.9 L1687.5,1118.0 L1690.0,1118.1 L1692.5,1118.1 L1695.0,1118.2 L1697.5,1118.2 L1700.0,1118.3 L1702.5,1118.3 L1705.0,1118.3 L1707.5,1118.3 L1710.0,1118.3 L1712.5,1118.3 L1715.0,1118.3 L1717.5,1118.3 L1720.0,1118.3 L1722.5,1118.3 L1725.0,1118.2 L1727.5,1118.2 L1730.0,1118.1 L1732.5,1118.0 L1735.0,1117.9 L1737.5,1117.9 L1740.0,1117.8 L1742.5,1117.7 L1745.0,1117.6 L1747.5,1117.4 L1750.0,1117.3 L1752.5,1117.2 L1755.0,1117.0 L1757.5,1116.9 L1760.0,1116.7 L1762.5,1116.6 L1765.0,1116.4 L1767.5,1116.2 L1770.0,1116.1 L1772.5,1115.9 L1775.0,1115.7 L1777.5,1115.5 L1780.0,1115.3 L1782.5,1115.1 L1785.0,1114.9 L1787.5,1114.6 L1790.0,1114.4 L1792.5,1114.2 L1795.0,1114.0 L1797.5,1113.7 L1800.0,1113.5 L1802.5,1113.2 L1805.0,1113.0 L1807.5,1112.7 L1810.0,1112.4 L1812.5,1112.2 L1815.0,1111.9 L1817.5,1111.6 L1820.0,1111.3 L1822.5,1111.1 L1825.0,1110.8 L1827.5,1110.5 L1830.0,1110.2 L1832.5,1109.9 L1835.0,1109.6 L1837.5,1109.3 L1840.0,1109.0 L1842.5,1108.7 L1845.0,1108.4 L1847.5,1108.1 L1850.0,1107.8 L1852.5,1107.4 L1855.0,1107.1 L1857.5,1106.8 L1860.0,1106.5 L1862.5,1106.2 L1865.0,1105.8 L1867.5,1105.5 L1870.0,1105.2 L1872.5,1104.9 L1875.0,1104.5 L1877.5,1104.2 L1880.0,1103.9 L1882.5,1103.5 L1885.0,1103.2 L1887.5,1102.9 L1890.0,1102.5 L1892.5,1102.2 L1895.0,1101.9 L1897.5,1101.5 L1900.0,1101.2 L1902.5,1100.9 L1905.0,1100.6 L1907.5,1100.2 L1910.0,1099.9 L1912.5,1099.6 L1915.0,1099.3 L1917.5,1098.9 L1920.0,1098.6 L1922.5,1098.3 L1925.0,1098.0" stroke="#008000" stroke-width="8"/>
<path d="M205.0,1232.4 L208.0,1232.2 L211.0,1232.0 L214.0,1231.8 L217.0,1231.6 L220.0,1231.3 L223.0,1231.1 L226.0,1230.9 L229.0,1230.6 L232.0,1230.4 L235.0,1230.1 L238.0,1229.9 L241.0,1229.6 L244.0,1229.4 L247.0,1229.1 L250.0,1228.8 L253.0,1228.5 L256.0,1228.2 L259.0,1227.9 L262.0,1227.6 L265.0,1227.3 L268.0,1227.0 L271.0,1226.7 L274.0,1226.4 L277.0,1226.1 L280.0,1225.8 L283.0,1225.4 L286.0,1225.1 L289.0,1224.8 L292.0,1224.4 L295.0,1224.1 L298.0,1223.8 L301.0,1223.4 L304.0,1223.1 L307.0,1222.7 L310.0,1222.3 L313.0,1222.0 L316.0,1221.6 L319.0,1221.2 L322.0,1220.9 L325.0,1220.5 L328.0,1220.1 L331.0,1219.7 L334.0,1219.4 L337.0,1219.0 L340.0,1218.6 L343.0,1218.2 L346.0,1217.8 L349.0,1217.4 L352.0,1217.0 L355.0,1216.6 L358.0,1216.2 L361.0,1215.8 L364.0,1215.4 L367.0,1215.0 L370.0,1214.6 L373.0,1214.2 L376.0,1213.8 L379.0,1213.3 L382.0,1212.9 L385.0,1212.5 L388.0,1212.1 L391.0,1211.7 L394.0,1211.3 L397.0,1210.8 L400.0,1210.4 L403.0,1210.0 L406.0,1209.6 L409.0,1209.1 L412.0,1208.7 L415.0,1208.3 L418.0,1207.9 L421.0,1207.4 L424.0,1207.0 L427.0,1206.6 L430.0,1206.2 L433.0,1205.7 L436.0,1205.3 L439.0,1204.9 L442.0,1204.5 L445.0,1204.0 L448.0,1203.6 L451.0,1203.2 L454.0,1202.8 L457.0,1202.3 L460.0,1201.9 L463.0,1201.5 L466.0,1201.1 L469.0,1200.6 L472.0,1200.2 L475.0,1199.8 L478.0,1199.4 L481.0,1199.0 L484.0,1198.5 L487.0,1198.1 L490.0,1197.7 L493.0,1197.3 L496.0,1196.9 L499.0,1196.5 L502.0,1196.1 L505.0,1195.7 L508.0,1195.3 L511.0,1194.9 L514.0,1194.5 L517.0,1194.1 L520.0,1193.7 L523.0,1193.3 L526.0,1192.9 L529.0,1192.5 L532.0,1192.1 L535.0,1191.8 L538.0,1191.4 L541.0,1191.0 L544.0,1190.6 L547.0,1190.3 L550.0,1189.9 L553.0,1189.5 L556.0,1189.2 L559.0,1188.8 L562.0,1188.5 L565.0,1188.1 L568.0,1187.8 L571.0,1187.4 L574.0,1187.1 L577.0,1186.8 L580.0,1186.4 L583.0,1186.1 L586.0,1185.8 L589.0,1185.5 L592.0,1185.1 L595.0,1184.8 L598.0,1184.5 L601.0,1184.2 L604.0,1183.9 L607.0,1183.6 L610.0,1183.3 L613.0,1183.1 L616.0,1182.8 L619.0,1182.5 L622.0,1182.2 L625.0,1182.0 L628.0,1181.7 L631.0,1181.5 L634.0,1181.2 L637.0,1181.0 L640.0,1180.7 L643.0,1180.5 L646.0,1180.3 L649.0,1180.1 L652.0,1179.8 L655.0,1179.6 L658.0,1179.4 L661.0,1179.2 L664.0,1179.0 L667.0,1178.9 L670.0,1178.7 L673.0,1178.5 L676.0,1178.3 L679.0,1178.2 L682.0,1178.0 L685.0,1177.9 L688.0,1177.8 L691.0,1177.6 L694.0,1177.5 L697.0,1177.4 L700.0,1177.3 L703.0,1177.2 L706.0,1177.1 L709.0,1177.0 L712.0,1176.9 L715.0,1176.8 L718.0,1176.8 L721.0,1176.7 L724.0,1176.6 L727.0,1176.6 L730.0,1176.6 L733.0,1176.5 L736.0,1176.5 L739.0,1176.5 L742.0,1176.5 L745.0,1176.5 L748.0,1176.5 L751.0,1176.5 L754.0,1176.6 L757.0,1176.6 L760.0,1176.6 L763.0,1176.7 L766.0,1176.8 L769.0,1176.8 L772.0,1176.9 L775.0,1177.0 L778.0,1177.1 L781.0,1177.2 L784.0,1177.3 L787.0,1177.4 L790.0,1177.5 L793.0,1177.6 L796.0,1177.8 L799.0,1177.9 L802.0,1178.0 L805.0,1178.2 L808.0,1178.3 L811.0,1178.5 L814.0,1178.7 L817.0,1178.8 L820.0,1179.0 L823.0,1179.2 L826.0,1179.4 L829.0,1179.6 L832.0,1179.7 L835.0,1179.9 L838.0,1180.1 L841.0,1180.3 L844.0,1180.5 L847.0,1180.8 L850.0,1181.0 L853.0,1181.2 L856.0,1181.4 L859.0,1181.6 L862.0,1181.8 L865.0,1182.1 L868.0,1182.3 L871.0,1182.5 L874.0,1182.7 L877.0,1183.0 L880.0,1183.2 L883.0,1183.4 L886.0,1183.7 L889.0,1183.9 L892.0,1184.2 L895.0,1184.4 L898.0,1184.6 L901.0,1184.9 L904.0,1185.1 L907.0,1185.3 L910.0,1185.6 L913.0,1185.8 L916.0,1186.1 L919.0,1186.3 L922.0,1186.5 L925.0,1186.8 L928.0,1187.0 L931.0,1187.2 L934.0,1187.5 L937.0,1187.7 L940.0,1187.9 L943.0,1188.2 L946.0,1188.4 L949.0,1188.6 L952.0,1188.8 L955.0,1189.0 L958.0,1189.2 L961.0,1189.4 L964.0,1189.7 L967.0,1189.9 L970.0,1190.1 L973.0,1190.3 L976.0,1190.4 L979.0,1190.6 L982.0,1190.8 L985.0,1191.0 L988.0,1191.2 L991.0,1191.3 L994.0,1191.5 L997.0,1191.7 L1000.0,1191.8 L1003.0,1192.0 L1006.0,1192.1 L1009.0,1192.2 L1012.0,1192.4 L1015.0,1192.5 L1018.0,1192.6 L1021.0,1192.7 L1024.0,1192.8 L1027.0,1192.9 L1030.0,1193.0 L1033.0,1193.1 L1036.0,1193.2 L1039.0,1193.3 L1042.0,1193.3 L1045.0,1193.4 L1048.0,1193.4 L1051.0,1193.5 L1054.0,1193.5 L1057.0,1193.5 L1060.0,1193.6 L1063.0,1193.6 L1066.0,1193.6 L1069.0,1193.6 L1072.0,1193.5 L1075.0,1193.5 L1078.0,1193.5 L1081.0,1193.4 L1084.0,1193.4 L1087.0,1193.3 L1090.0,1193.2 L1093.0,1193.1 L1096.0,1193.0 L1099.0,1192.9 L1102.0,1192.8 L1105.0,1192.7 L1108.0,1192.5 L1111.0,1192.4 L1114.0,1192.2 L1117.0,1192.0 L1120.0,1191.8 L1123.0,1191.6 L1126.0,1191.4 L1129.0,1191.2 L1132.0,1190.9 L1135.0,1190.7 L1138.0,1190.4 L1141.0,1190.1 L1144.0,1189.9 L1147.0,1189.6 L1150.0,1189.2 L1153.0,1188.9 L1156.0,1188.6 L1159.0,1188.2 L1162.0,1187.8 L1165.0,1187.5 L1168.0,1187.1 L1171.0,1186.7 L1174.0,1186.3 L1177.0,1185.8 L1180.0,1185.4 L1183.0,1185.0 L1186.0,1184.5 L1189.0,1184.0 L1192.0,1183.6 L1195.0,1183.1 L1198.0,1182.6 L1201.0,1182.1 L1204.0,1181.6 L1207.0,1181.0 L1210.0,1180.5 L1213.0,1180.0 L1216.0,1179.4 L1219.0,1178.8 L1222.0,1178.3 L1225.0,1177.7 L1228.0,1177.1 L1231.0,1176.5 L1234.0,1175.9 L1237.0,1175.3 L1240.0,1174.7 L1243.0,1174.1 L1246.0,1173.4 L1249.0,1172.8 L1252.0,1172.1 L1255.0,1171.5 L1258.0,1170.8 L1261.0,1170.2 L1264.0,1169.5 L1267.0,1168.8 L1270.0,1168.1 L1273.0,1167.4 L1276.0,1166.7 L1279.0,1166.0 L1282.0,1165.3 L1285.0,1164.6 L1288.0,1163.9 L1291.0,1163.2 L1294.0,1162.5 L1297.0,1161.7 L1300.0,1161.0 L1303.0,1160.3 L1306.0,1159.5 L1309.0,1158.8 L1312.0,1158.0 L1315.0,1157.3 L1318.0,1156.5 L1321.0,1155.8 L1324.0,1155.0 L1327.0,1154.2 L1330.0,1153.5 L1333.0,1152.7 L1336.0,1151.9 L1339.0,1151.2 L1342.0,1150.4 L1345.0,1149.6 L1348.0,1148.8 L1351.0,1148.1 L1354.0,1147.3 L1357.0,1146.5 L1360.0,1145.7 L1363.0,1144.9 L1366.0,1144.2 L1369.0,1143.4 L1372.0,1142.6 L1375.0,1141.9 L1378.0,1141.1 L1381.0,1140.3 L1384.0,1139.6 L1387.0,1138.8 L1390.0,1138.1 L1393.0,1137.3 L1396.0,1136.6 L1399.0,1135.8 L1402.0,1135.1 L1405.0,1134.4 L1408.0,1133.6 L1411.0,1132.9 L1414.0,1132.2 L1417.0,1131.5 L1420.0,1130.8 L1423.0,1130.1 L1426.0,1129.5 L1429.0,1128.8 L1432.0,1128.1 L1435.0,1127.5 L1438.0,1126.9 L1441.0,1126.2 L1444.0,1125.6 L1447.0,1125.0 L1450.0,1124.4 L1453.0,1123.8 L1456.0,1123.3 L1459.0,1122.7 L1462.0,1122.1 L1465.0,1121.6 L1468.0,1121.1 L1471.0,1120.6 L1474.0,1120.1 L1477.0,1119.6 L1480.0,1119.2 L1483.0,1118.7 L1486.0,1118.3 L1489.0,1117.9 L1492.0,1117.5 L1495.0,1117.1 L1498.0,1116.7 L1501.0,1116.4 L1504.0,1116.1 L1507.0,1115.7 L1510.0,1115.5 L1513.0,1115.2 L1516.0,1114.9 L1519.0,1114.7 L1522.0,1114.5 L1525.0,1114.3 L1528.0,1114.1 L1531.0,1113.9 L1534.0,1113.8 L1537.0,1113.7 L1540.0,1113.6 L1543.0,1113.5 L1546.0,1113.4 L1549.0,1113.3 L1552.0,1113.3 L1555.0,1113.3 L1558.0,1113.2 L1561.0,1113.2 L1564.0,1113.2 L1567.0,1113.2 L1570.0,1113.3 L1573.0,1113.3 L1576.0,1113.4 L1579.0,1113.4 L1582.0,1113.5 L1585.0,1113.6 L1588.0,1113.7 L1591.0,1113.7 L1594.0,1113.8 L1597.0,1114.0 L1600.0,1114.1 L1603.0,1114.2 L1606.0,1114.3 L1609.0,1114.4 L1612.0,1114.6 L1615.0,1114.7 L1618.0,1114.9 L1621.0,1115.0 L1624.0,1115.2 L1627.0,1115.3 L1630.0,1115.5 L1633.0,1115.6 L1636.0,1115.8 L1639.0,1115.9 L1642.0,1116.1 L1645.0,1116.2 L1648.0,1116.4 L1651.0,1116.5 L1654.0,1116.7 L1657.0,1116.8 L1660.0,1117.0 L1663.0,1117.1 L1666.0,1117.2 L1669.0,1117.3 L1672.0,1117.5 L1675.0,1117.6 L1678.0,1117.7 L1681.0,1117.8 L1684.0,1117.9 L1687.0,1118.0 L1690.0,1118.1 L1693.0,1118.1 L1696.0,1118.2 L1699.0,1118.2 L1702.0,1118.3 L1705.0,1118.3 L1708.0,1118.3 L1711.0,1118.3 L1714.0,1118.3 L1717.0,1118.3 L1720.0,1118.3 L1723.0,1118.2 L1726.0,1118.2 L1729.0,1118.1 L1732.0,1118.0 L1735.0,1117.9 L1738.0,1117.8 L1741.0,1117.7 L1744.0,1117.6 L1747.0,1117.5 L1750.0,1117.3 L1753.0,1117.2 L1756.0,1117.0 L1759.0,1116.8 L1762.0,1116.6 L1765.0,1116.4 L1768.0,1116.2 L1771.0,1116.0 L1774.0,1115.8 L1777.0,1115.5 L1780.0,1115.3 L1783.0,1115.0 L1786.0,1114.8 L1789.0,1114.5 L1792.0,1114.2 L1795.0,1114.0 L1798.0,1113.7 L1801.0,1113.4 L1804.0,1113.1 L1807.0,1112.8 L1810.0,1112.4 L1813.0,1112.1 L1816.0,1111.8 L1819.0,1111.5 L1822.0,1111.1 L1825.0,1110.8 L1828.0,1110.4 L1831.0,1110.1 L1834.0,1109.7 L1837.0,1109.4 L1840.0,1109.0 L1843.0,1108.6 L1846.0,1108.3 L1849.0,1107.9 L1852.0,1107.5 L1855.0,1107.1 L1858.0,1106.7 L1861.0,1106.4 L1864.0,1106.0 L1867.0,1105.6 L1870.0,1105.2 L1873.0,1104.8 L1876.0,1104.4 L1879.0,1104.0 L1882.0,1103.6 L1885.0,1103.2 L1888.0,1102.8 L1891.0,1102.4 L1894.0,1102.0 L1897.0,1101.6 L1900.0,1101.2 L1903.0,1100.8 L1906.0,1100.4 L1909.0,1100.0 L1912.0,1099.6 L1915.0,1099.3 L1918.0,1098.9 L1921.0,1098.5 L1924.0,1098.1" stroke="#000080" stroke-width="8"/>
<path d="M205.0,1221.3 L209.3,1215.7 L213.6,1214.9 L218.0,1219.1 L222.3,1221.5 L226.6,1225.7 L230.9,1220.2 L235.2,1227.3 L239.6,1215.0 L243.9,1221.2 L248.2,1221.1 L252.5,1221.8 L256.8,1222.7 L261.2,1227.1 L265.5,1219.4 L269.8,1215.9 L274.1,1218.9 L278.4,1224.9 L282.8,1215.1 L287.1,1219.7 L291.4,1222.8 L295.7,1221.1 L300.0,1210.1 L304.4,1221.4 L308.7,1217.0 L313.0,1222.7 L317.3,1219.4 L321.6,1226.9 L326.0,1229.7 L330.3,1221.0 L334.6,1214.5 L338.9,1208.9 L343.2,1221.0 L347.6,1213.9 L351.9,1214.2 L356.2,1221.2 L360.5,1213.7 L364.8,1216.8 L369.2,1209.8 L373.5,1213.3 L377.8,1208.2 L382.1,1214.9 L386.4,1208.7 L390.8,1210.1 L395.1,1208.0 L399.4,1214.3 L403.7,1203.1 L408.0,1203.8 L412.4,1201.0 L416.7,1214.6 L421.0,1197.6 L425.3,1189.0 L429.6,1194.6 L434.0,1188.0 L438.3,1182.9 L442.6,1183.3 L446.9,1170.9 L451.2,1159.9 L455.6,1167.0 L459.9,1144.7 L464.2,1156.3 L468.5,1137.6 L472.8,1144.3 L477.2,1107.3 L481.5,1119.4 L485.8,1117.2 L490.1,1111.7 L494.4,1096.5 L498.8,1079.3 L503.1,1086.4 L507.4,1086.1 L511.7,1049.1 L516.0,1052.9 L520.4,1038.6 L524.7,1027.8 L529.0,993.1 L533.3,989.2 L537.6,971.0 L542.0,953.6 L546.3,950.0 L550.6,941.4 L554.9,920.5 L559.2,930.0 L563.6,908.1 L567.9,933.3 L572.2,913.5 L576.5,952.0 L580.8,939.7 L585.2,968.4 L589.5,985.4 L593.8,987.4 L598.1,1017.6 L602.4,1018.5 L606.8,1036.0 L611.1,1052.7 L615.4,1062.0 L619.7,1074.8 L624.0,1081.5 L628.4,1108.0 L632.7,1102.9 L637.0,1107.1 L641.3,1112.9 L645.6,1118.1 L650.0,1129.1 L654.3,1126.8 L658.6,1149.3 L662.9,1145.2 L667.2,1145.4 L671.6,1147.8 L675.9,1156.8 L680.2,1156.4 L684.5,1155.2 L688.8,1161.1 L693.2,1166.2 L697.5,1177.5 L701.8,1177.5 L706.1,1172.1 L710.4,1181.6 L714.8,1165.6 L719.1,1170.9 L723.4,1178.0 L727.7,1177.2 L732.0,1147.5 L736.4,1165.6 L740.7,1163.8 L745.0,1165.4 L749.3,1154.6 L753.6,1160.0 L758.0,1158.3 L762.3,1160.4 L766.6,1152.0 L770.9,1153.3 L775.2,1146.5 L779.6,1137.8 L783.9,1152.2 L788.2,1150.7 L792.5,1138.0 L796.8,1145.3 L801.2,1135.6 L805.5,1146.0 L809.8,1128.2 L814.1,1123.1 L818.4,1119.6 L822.8,1117.5 L827.1,1118.9 L831.4,1097.3 L835.7,1111.8 L840.0,1106.5 L844.4,1109.5 L848.7,1106.4 L853.0,1093.0 L857.3,1091.8 L861.6,1101.4 L866.0,1080.1 L870.3,1086.0 L874.6,1089.5 L878.9,1084.8 L883.2,1080.6 L887.6,1081.8 L891.9,1095.7 L896.2,1081.0 L900.5,1078.6 L904.8,1091.7 L909.2,1093.7 L913.5,1090.5 L917.8,1094.4 L922.1,1082.9 L926.4,1087.7 L930.8,1073.0 L935.1,1098.4 L939.4,1085.4 L943.7,1085.0 L948.0,1094.0 L952.4,1081.7 L956.7,1078.0 L961.0,1088.4 L965.3,1082.3 L969.6,1090.0 L974.0,1100.4 L978.3,1107.6 L982.6,1100.1 L986.9,1117.9 L991.2,1121.7 L995.6,1127.4 L999.9,1140.5 L1004.2,1126.1 L1008.5,1157.2 L1012.8,1156.7 L1017.2,1165.3 L1021.5,1161.6 L1025.8,1166.1 L1030.1,1175.6 L1034.4,1167.9 L1038.8,1183.0 L1043.1,1172.1 L1047.4,1171.8 L1051.7,1189.2 L1056.0,1181.1 L1060.4,1185.2 L1064.7,1185.7 L1069.0,1185.2 L1073.3,1189.5 L1077.6,1186.8 L1082.0,1187.5 L1086.3,1182.5 L1090.6,1178.5 L1094.9,1179.1 L1099.2,1175.5 L1103.6,1182.0 L1107.9,1184.8 L1112.2,1187.3 L1116.5,1181.8 L1120.8,1179.7 L1125.2,1178.5 L1129.5,1177.6 L1133.8,1177.3 L1138.1,1184.0 L1142.4,1180.9 L1146.8,1186.2 L1151.1,1180.6 L1155.4,1185.9 L1159.7,1182.2 L1164.0,1179.9 L1168.4,1171.1 L1172.7,1181.9 L1177.0,1179.3 L1181.3,1174.3 L1185.6,1173.3 L1190.0,1179.2 L1194.3,1176.1 L1198.6,1170.1 L1202.9,1175.5 L1207.2,1162.1 L1211.6,1165.3 L1215.9,1163.4 L1220.2,1164.0 L1224.5,1164.5 L1228.8,1169.8 L1233.2,1161.1 L1237.5,1153.5 L1241.8,1163.1 L1246.1,1171.1 L1250.4,1155.8 L1254.8,1167.7 L1259.1,1152.8 L1263.4,1160.4 L1267.7,1163.7 L1272.0,1159.0 L1276.4,1159.0 L1280.7,1152.8 L1285.0,1141.5 L1289.3,1146.4 L1293.6,1151.4 L1298.0,1140.9 L1302.3,1142.4 L1306.6,1134.3 L1310.9,1127.8 L1315.2,1124.0 L1319.6,1132.8 L1323.9,1124.5 L1328.2,1127.4 L1332.5,1107.9 L1336.8,1112.0 L1341.2,1115.9 L1345.5,1104.3 L1349.8,1103.0 L1354.1,1106.0 L1358.4,1095.7 L1362.8,1088.4 L1367.1,1085.2 L1371.4,1074.7 L1375.7,1074.2 L1380.0,1074.4 L1384.4,1042.3 L1388.7,1071.4 L1393.0,1038.2 L1397.3,1041.7 L1401.6,1034.7 L1406.0,1024.9 L1410.3,1029.7 L1414.6,1017.5 L1418.9,1014.8 L1423.2,1029.2 L1427.6,1040.2 L1431.9,1026.6 L1436.2,1021.9 L1440.5,1032.5 L1444.8,1040.5 L1449.2,1042.6 L1453.5,1043.3 L1457.8,1054.4 L1462.1,1054.0 L1466.4,1052.2 L1470.8,1073.9 L1475.1,1079.7 L1479.4,1079.5 L1483.7,1066.1 L1488.0,1073.7 L1492.4,1075.8 L1496.7,1089.7 L1501.0,1090.5 L1505.3,1093.1 L1509.6,1090.1 L1514.0,1103.9 L1518.3,1104.3 L1522.6,1111.9 L1526.9,1106.1 L1531.2,1110.8 L1535.6,1109.0 L1539.9,1113.3 L1544.2,1102.4 L1548.5,1113.1 L1552.8,1112.3 L1557.2,1101.0 L1561.5,1117.4 L1565.8,1111.5 L1570.1,1111.2 L1574.4,1119.9 L1578.8,1113.5 L1583.1,1111.1 L1587.4,1111.5 L1591.7,1105.6 L1596.0,1106.3 L1600.4,1113.3 L1604.7,1109.1 L1609.0,1117.1 L1613.3,1111.9 L1617.6,1114.0 L1622.0,1109.3 L1626.3,1105.5 L1630.6,1112.0 L1634.9,1105.1 L1639.2,1105.3 L1643.6,1101.5 L1647.9,1097.5 L1652.2,1111.4 L1656.5,1104.9 L1660.8,1107.1 L1665.2,1101.9 L1669.5,1101.0 L1673.8,1104.1 L1678.1,1086.0 L1682.4,1101.9 L1686.8,1095.0 L1691.1,1087.7 L1695.4,1075.4 L1699.7,1078.1 L1704.0,1080.7 L1708.4,1078.5 L1712.7,1075.4 L1717.0,1048.8 L1721.3,1052.1 L1725.6,1056.2 L1730.0,1045.3 L1734.3,1041.6 L1738.6,1041.3 L1742.9,1034.1 L1747.2,1032.8 L1751.6,1023.1 L1755.9,1027.8 L1760.2,1024.4 L1764.5,1031.3 L1768.8,1027.4 L1773.2,1026.5 L1777.5,1021.1 L1781.8,1032.1 L1786.1,1038.3 L1790.4,1032.2 L1794.8,1033.7 L1799.1,1047.5 L1803.4,1057.2 L1807.7,1062.2 L1812.0,1056.5 L1816.4,1061.3 L1820.7,1077.7 L1825.0,1066.4 L1829.3,1082.7 L1833.6,1082.2 L1838.0,1085.7 L1842.3,1090.4 L1846.6,1098.1 L1850.9,1089.4 L1855.2,1101.4 L1859.6,1097.8 L1863.9,1100.8 L1868.2,1096.6 L1872.5,1092.7 L1876.8,1105.8 L1881.2,1093.4 L1885.5,1099.1 L1889.8,1106.2 L1894.1,1088.1 L1898.4,1100.4 L1902.8,1100.2 L1907.1,1092.9 L1911.4,1098.3 L1915.7,1101.5 L1920.0,1097.2 L1924.4,1097.0" stroke="#8000ff" stroke-width="9.5"/>
</g>
<g fill="#000" shape-rendering="crispEdges">
<rect x="655.0" y="157.0" width="8" height="24.0"/>
<rect x="655.0" y="212.8" width="8" height="24.0"/>
<rect x="655.0" y="268.6" width="8" height="24.0"/>
<rect x="655.0" y="324.4" width="8" height="24.0"/>
<rect x="655.0" y="380.2" width="8" height="24.0"/>
<rect x="655.0" y="436.0" width="8" height="24.0"/>
<rect x="655.0" y="491.8" width="8" height="24.0"/>
<rect x="655.0" y="547.6" width="8" height="24.0"/>
<rect x="655.0" y="603.4" width="8" height="24.0"/>
<rect x="655.0" y="659.2" width="8" height="24.0"/>
<rect x="655.0" y="715.0" width="8" height="24.0"/>
<rect x="552.8" y="375.0" width="8" height="24.0"/>
<rect x="552.8" y="430.6" width="8" height="24.0"/>
<rect x="552.8" y="486.2" width="8" height="24.0"/>
<rect x="552.8" y="541.8" width="8" height="24.0"/>
<rect x="552.8" y="597.4" width="8" height="24.0"/>
<rect x="552.8" y="653.0" width="8" height="24.0"/>
<rect x="552.8" y="708.6" width="8" height="24.0"/>
<rect x="552.8" y="764.2" width="8" height="24.0"/>
<rect x="552.8" y="819.8" width="8" height="24.0"/>
<rect x="552.8" y="875.4" width="8" height="24.0"/>
<rect x="552.8" y="931.0" width="8" height="24.0"/>
<rect x="552.8" y="986.6" width="8" height="24.0"/>
</g>
<g>
<text transform="translate(409.30,1390.00)" font-size="56.3" text-anchor="middle">930</text>
<text transform="translate(841.30,1390.00)" font-size="56.3" text-anchor="middle">940</text>
<text transform="translate(1273.30,1390.00)" font-size="56.3" text-anchor="middle">950</text>
<text transform="translate(1705.60,1390.00)" font-size="56.3" text-anchor="middle">960</text>
<text transform="translate(196.75,456.20)" font-size="54" text-anchor="start">CuO/SiO</text>
<text transform="translate(409.30,477.50) scale(1.1500,1)" font-size="28" text-anchor="start" stroke="#000" stroke-width="0.7">2</text>
<text transform="translate(426.40,456.20)" font-size="54" text-anchor="start">(AE)</text>
<text transform="translate(194.95,736.10)" font-size="54" text-anchor="start">CuO/SiO</text>
<text transform="translate(407.50,757.40) scale(1.1500,1)" font-size="28" text-anchor="start" stroke="#000" stroke-width="0.7">2</text>
<text transform="translate(424.60,736.10)" font-size="54" text-anchor="start">(DP)</text>
<text transform="translate(196.75,973.20)" font-size="54" text-anchor="start">CuO/SiO</text>
<text transform="translate(409.30,994.50) scale(1.1500,1)" font-size="28" text-anchor="start" stroke="#000" stroke-width="0.7">2</text>
<text transform="translate(426.40,973.20)" font-size="54" text-anchor="start">(IM)</text>
<text transform="translate(640.00,140.40)" font-size="54.5" text-anchor="start">936.0</text>
<text transform="translate(499.50,358.75)" font-size="54.5" text-anchor="start">933.5</text>
<text transform="translate(1588.80,143.00) scale(0.9520,1)" font-size="63" text-anchor="start">Cu 2p</text>
<text transform="translate(764.80,1488.20)" font-size="60" text-anchor="start">Binding energy</text>
<text transform="translate(1152.20,1486.80) scale(1.1600,1)" font-size="58.7" text-anchor="start" font-family="'Noto Serif CJK SC','Liberation Serif',serif">（</text>
<text transform="translate(1218.90,1488.20)" font-size="60" text-anchor="start">eV</text>
<text transform="translate(1294.00,1486.80) scale(1.2500,1)" font-size="58.7" text-anchor="start" font-family="'Noto Serif CJK SC','Liberation Serif',serif">）</text>
<text transform="translate(81.20,945.50) rotate(-90)" font-size="61" text-anchor="start">Intensity</text>
<text transform="translate(78.20,710.20) rotate(-90) scale(1.2600,1)" font-size="58.3" text-anchor="start" font-family="'Noto Serif CJK SC','Liberation Serif',serif" style="font-weight:500">（</text>
<text transform="translate(81.20,639.00) rotate(-90)" font-size="61" text-anchor="start">a.u.</text>
<text transform="translate(78.20,540.70) rotate(-90) scale(1.2600,1)" font-size="58.3" text-anchor="start" font-family="'Noto Serif CJK SC','Liberation Serif',serif" style="font-weight:500">）</text>
</g>
</svg>
</body></html>
